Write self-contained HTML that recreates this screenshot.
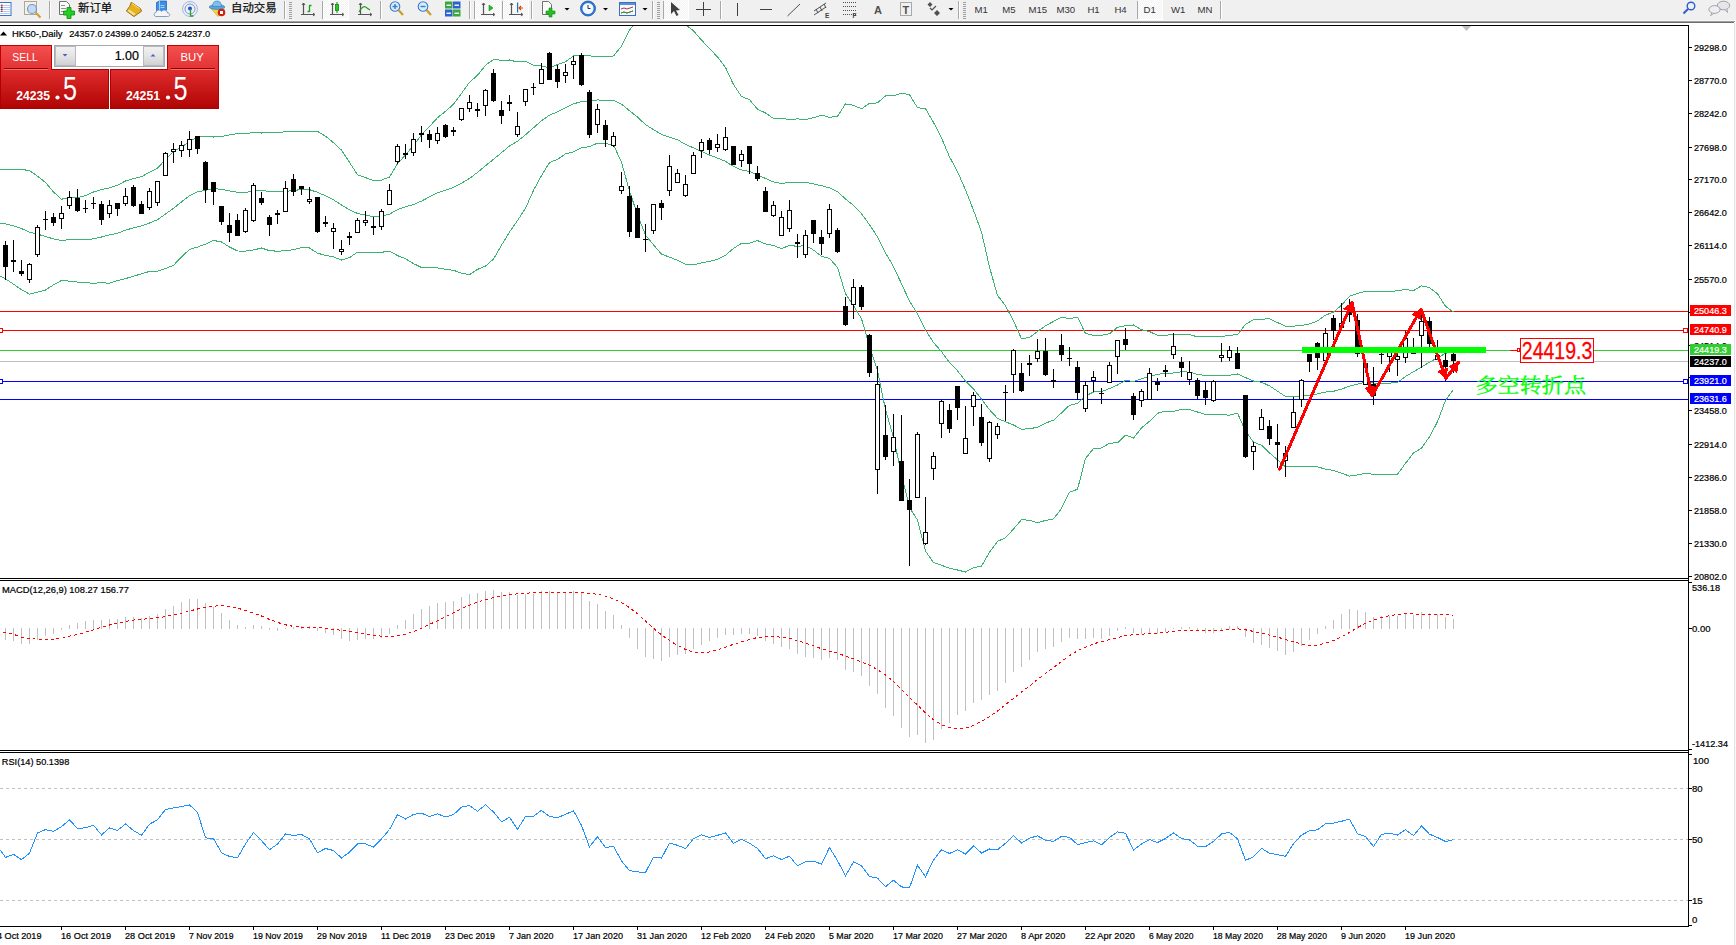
<!DOCTYPE html>
<html><head><meta charset="utf-8"><title>HK50 Daily</title>
<style>
html,body{margin:0;padding:0;background:#fff;overflow:hidden;}
svg{display:block;}
text{font-family:'Liberation Sans', 'Noto Sans CJK SC', sans-serif;}
text[fill="#000"]{stroke:#000;stroke-width:0.22px;}
</style></head><body>
<svg width="1736" height="945" viewBox="0 0 1736 945">
<rect x="0" y="0" width="1736" height="945" fill="#fff"/>

<rect x="0" y="0" width="1736" height="21" fill="#f0f0f0"/>
<rect x="0" y="20" width="1736" height="1" fill="#f7f7f7"/>
<rect x="0" y="21" width="1735" height="1" fill="#a0a0a0"/>
<rect x="0" y="22" width="1734" height="1" fill="#6e6e6e"/>
<rect x="1734" y="23" width="1" height="922" fill="#e2e2e2"/><rect x="1735" y="21" width="1" height="924" fill="#f8f8f8"/>
<defs><pattern id="chk" x="0" y="0" width="2" height="2" patternUnits="userSpaceOnUse"><rect width="2" height="2" fill="#f2f2f2"/><rect width="1" height="1" fill="#ffffff"/><rect x="1" y="1" width="1" height="1" fill="#ffffff"/></pattern></defs>
<rect x="-4" y="2.5" width="15" height="13" fill="#fff" stroke="#3b73c8" stroke-width="1"/>
<rect x="0" y="5" width="10" height="1" fill="#b8c8ee"/>
<rect x="0" y="7" width="10" height="1" fill="#b8c8ee"/>
<rect x="0" y="9" width="10" height="1" fill="#b8c8ee"/>
<rect x="0" y="11" width="10" height="1" fill="#b8c8ee"/>
<rect x="0" y="13" width="10" height="1" fill="#b8c8ee"/>
<rect x="1" y="4.5" width="1.5" height="1.5" fill="#e03030"/>
<rect x="1" y="6.5" width="1.5" height="1.5" fill="#404040"/>
<rect x="1" y="8.5" width="1.5" height="1.5" fill="#404040"/>
<rect x="1" y="10.5" width="1.5" height="1.5" fill="#e03030"/>
<rect x="24.5" y="1.5" width="12" height="13" fill="#f4f0e8" stroke="#b0a890"/>
<circle cx="32" cy="9" r="4.5" fill="#c8d8ee" stroke="#6a9ad8" stroke-width="1.2"/>
<line x1="35.5" y1="12.5" x2="40.5" y2="17.5" stroke="#d0a030" stroke-width="2.2"/>
<rect x="49" y="1" width="1" height="18" fill="#a8a8a8"/><rect x="50" y="1" width="1" height="18" fill="#ffffff"/>
<path d="M59.5 1.5 h7 l3 3 v10 h-10 z" fill="#fafafa" stroke="#707070"/>
<rect x="61" y="5" width="4" height="1" fill="#909090"/><rect x="61" y="8" width="5" height="1" fill="#909090"/><rect x="61" y="11" width="5" height="1" fill="#909090"/>
<path d="M67 7.5 h4 v3.5 h3.5 v4 h-3.5 v3.5 h-4 v-3.5 h-3.5 v-4 h3.5 z" fill="#22d022" stroke="#0c8a0c" stroke-width="0.8"/>
<text x="78" y="12.2" font-size="11.4" fill="#101010" stroke="#101010" stroke-width="0.25" style="font-family:'Noto Sans CJK SC', sans-serif">新订单</text>
<path d="M131.3 2.3 L140.4 8.5 L141.6 11.2 L134 16.6 L126.3 11 L129.6 6.5 Z" fill="#e6b21c" stroke="#9a6410" stroke-width="0.9"/>
<path d="M127.6 11 L134 15.4 L135.6 13.9 L129.2 9.6 Z" fill="#f6e0a0"/>
<path d="M132 3.5 L139.5 8.6" stroke="#fff2b0" stroke-width="0.8"/>
<path d="M156.5 2.5 l3 -1.5 h7 v9 l-3 1.5 h-7 z" fill="#3a90e6" stroke="#1a5cb0" stroke-width="0.7"/>
<path d="M159.5 1 v9.5 M160.5 5.5 h4 M160.5 7.5 h4" stroke="#bfe0ff" stroke-width="0.8" fill="none"/>
<path d="M156 16.5 c-2.5 0 -2.5 -4 0 -4 c0.5 -3 4.5 -3 5.5 -1 c1.5 -2.5 6 -1.5 6 1.5 c3 0 3 3.5 0 3.5 z" fill="#f2f4f8" stroke="#6a86b0" stroke-width="0.8"/>
<circle cx="190" cy="9" r="7.5" fill="none" stroke="#a0b8e8" stroke-width="1"/>
<circle cx="190" cy="9" r="5" fill="none" stroke="#7898e0" stroke-width="1"/>
<circle cx="190" cy="8.5" r="2" fill="#2050d0"/>
<path d="M190.5 9 v7 h3" fill="none" stroke="#30a030" stroke-width="1.3"/>
<path d="M210.5 8 L218 16.5 L224.5 9 Z" fill="#f2d448" stroke="#c8a428" stroke-width="0.6"/>
<ellipse cx="217" cy="7" rx="7.8" ry="2.4" fill="#5aa6de" stroke="#2f78bc" stroke-width="0.6"/>
<path d="M212.5 6.5 q0 -5.5 4.5 -5.5 q4.5 0 4.5 5.5 z" fill="#7cc0ec" stroke="#2f78bc" stroke-width="0.6"/>
<circle cx="221.5" cy="12.5" r="3.8" fill="#d02010"/><rect x="220" y="11" width="3" height="3" fill="#fff"/>
<text x="231" y="12.2" font-size="11.4" fill="#101010" stroke="#101010" stroke-width="0.25" style="font-family:'Noto Sans CJK SC', sans-serif">自动交易</text>
<rect x="284" y="1" width="1" height="18" fill="#a8a8a8"/><rect x="285" y="1" width="1" height="18" fill="#ffffff"/>
<rect x="289" y="2" width="3" height="1" fill="#a0a0a0"/>
<rect x="289" y="4" width="3" height="1" fill="#a0a0a0"/>
<rect x="289" y="6" width="3" height="1" fill="#a0a0a0"/>
<rect x="289" y="8" width="3" height="1" fill="#a0a0a0"/>
<rect x="289" y="10" width="3" height="1" fill="#a0a0a0"/>
<rect x="289" y="12" width="3" height="1" fill="#a0a0a0"/>
<rect x="289" y="14" width="3" height="1" fill="#a0a0a0"/>
<rect x="289" y="16" width="3" height="1" fill="#a0a0a0"/>
<rect x="289" y="18" width="3" height="1" fill="#a0a0a0"/>
<path d="M303.5 3 v12 M301 14.5 h13" stroke="#555" stroke-width="1.2" fill="none"/>
<path d="M302 5 l1.5 -2 l1.5 2 M313 13 l2 1.5 l-2 1.5" stroke="#555" stroke-width="1" fill="none"/>
<path d="M309.5 5 v7 M307.5 11.5 h2 M309.5 5.5 h2" stroke="#18a018" stroke-width="1.3" fill="none"/>
<rect x="322" y="1" width="1" height="18" fill="#a8a8a8"/><rect x="323" y="1" width="1" height="18" fill="#ffffff"/>
<rect x="324" y="0" width="24" height="19" fill="url(#chk)"/>
<rect x="324" y="19" width="25" height="1" fill="#ffffff"/><rect x="348" y="0" width="1" height="20" fill="#ffffff"/>
<path d="M332.5 3 v12 M330 14.5 h13" stroke="#555" stroke-width="1.2" fill="none"/>
<path d="M331 5 l1.5 -2 l1.5 2 M342 13 l2 1.5 l-2 1.5" stroke="#555" stroke-width="1" fill="none"/>
<rect x="335.5" y="4.5" width="3" height="6" fill="#22cc22" stroke="#118811" stroke-width="0.8"/><path d="M337 2 v2.5 M337 10.5 v2.5" stroke="#118811" stroke-width="1"/>
<path d="M360.5 3 v12 M358 14.5 h13" stroke="#555" stroke-width="1.2" fill="none"/>
<path d="M359 5 l1.5 -2 l1.5 2 M370 13 l2 1.5 l-2 1.5" stroke="#555" stroke-width="1" fill="none"/>
<path d="M359 12 q4 -8 8 -4 l3 2" stroke="#18a018" stroke-width="1.1" fill="none"/>
<rect x="380" y="1" width="1" height="18" fill="#a8a8a8"/><rect x="381" y="1" width="1" height="18" fill="#ffffff"/>
<circle cx="395" cy="6.5" r="4.8" fill="#d8ecfa" stroke="#3a7ad0" stroke-width="1.1"/>
<line x1="398.5" y1="10" x2="403" y2="15" stroke="#c8a020" stroke-width="2.2"/>
<rect x="392.5" y="5.8" width="5" height="1.4" fill="#3a7ad0"/>
<rect x="394.3" y="4" width="1.4" height="5" fill="#3a7ad0"/>
<circle cx="423" cy="6.5" r="4.8" fill="#d8ecfa" stroke="#3a7ad0" stroke-width="1.1"/>
<line x1="426.5" y1="10" x2="431" y2="15" stroke="#c8a020" stroke-width="2.2"/>
<rect x="420.5" y="5.8" width="5" height="1.4" fill="#3a7ad0"/>
<rect x="445" y="1.5" width="7.5" height="7" fill="#3aa83a"/><rect x="453" y="1.5" width="7.5" height="7" fill="#2a62d0"/>
<rect x="445" y="9.5" width="7.5" height="7" fill="#2a62d0"/><rect x="453" y="9.5" width="7.5" height="7" fill="#3aa83a"/>
<rect x="446.5" y="4.5" width="4.5" height="1.5" fill="#e8f0f8"/>
<rect x="454.5" y="4.5" width="4.5" height="1.5" fill="#e8f0f8"/>
<rect x="446.5" y="12.5" width="4.5" height="1.5" fill="#e8f0f8"/>
<rect x="454.5" y="12.5" width="4.5" height="1.5" fill="#e8f0f8"/>
<rect x="469" y="1" width="1" height="18" fill="#a8a8a8"/><rect x="470" y="1" width="1" height="18" fill="#ffffff"/>
<rect x="474" y="1" width="1" height="18" fill="#a8a8a8"/><rect x="475" y="1" width="1" height="18" fill="#ffffff"/>
<rect x="476" y="0" width="24" height="19" fill="url(#chk)"/>
<rect x="476" y="19" width="25" height="1" fill="#ffffff"/><rect x="500" y="0" width="1" height="20" fill="#ffffff"/>
<path d="M483.5 3 v12 M481 14.5 h13" stroke="#555" stroke-width="1.2" fill="none"/>
<path d="M482 5 l1.5 -2 l1.5 2 M493 13 l2 1.5 l-2 1.5" stroke="#555" stroke-width="1" fill="none"/>
<path d="M489 5 l4 3 l-4 3 z" fill="#20c020" stroke="#109010" stroke-width="0.6"/>
<rect x="502" y="1" width="1" height="18" fill="#a8a8a8"/><rect x="503" y="1" width="1" height="18" fill="#ffffff"/>
<rect x="504" y="0" width="24" height="19" fill="url(#chk)"/>
<rect x="504" y="19" width="25" height="1" fill="#ffffff"/><rect x="528" y="0" width="1" height="20" fill="#ffffff"/>
<path d="M511.5 3 v12 M509 14.5 h13" stroke="#555" stroke-width="1.2" fill="none"/>
<path d="M510 5 l1.5 -2 l1.5 2 M521 13 l2 1.5 l-2 1.5" stroke="#555" stroke-width="1" fill="none"/>
<rect x="517" y="2.5" width="1.2" height="10" fill="#2070c0"/><path d="M523 8 h-4 M521 6 l-2 2 l2 2" stroke="#d04010" stroke-width="1.1" fill="none"/>
<rect x="531" y="1" width="1" height="18" fill="#a8a8a8"/><rect x="532" y="1" width="1" height="18" fill="#ffffff"/>
<path d="M542.5 1.5 h6 l3 3 v10 h-9 z" fill="#fafafa" stroke="#707070"/>
<path d="M549 8 h3 v3 h3 v3 h-3 v3 h-3 v-3 h-3 v-3 h3 z" fill="#22c022" stroke="#118811" stroke-width="0.6"/>
<path d="M564.5 8 h5 l-2.5 2.5 z" fill="#000"/>
<circle cx="588" cy="8.5" r="7.5" fill="#2a78d8" stroke="#1a58a8" stroke-width="0.8"/><circle cx="588" cy="8.5" r="5.5" fill="#f4f8fc"/>
<path d="M588 5 v3.5 h2.5" stroke="#333" stroke-width="1" fill="none"/>
<path d="M603.0 8 h5 l-2.5 2.5 z" fill="#000"/>
<rect x="619.5" y="2.5" width="16" height="13" fill="#f4f8fc" stroke="#3a70c0"/><rect x="620" y="3" width="15" height="2" fill="#5a90d8"/>
<path d="M621 9 l3 -1 l3 1 l3 -1 l3 -1 M621 13 l3 -1 l3 1 l3 -1 l3 -1" stroke="#b02020" stroke-width="0.9" fill="none"/>
<path d="M621 13 l3 -1 l3 1 l3 -1 l3 -1" stroke="#20a020" stroke-width="0.9" fill="none"/>
<path d="M642.5 8 h5 l-2.5 2.5 z" fill="#000"/>
<rect x="652" y="1" width="1" height="18" fill="#a8a8a8"/><rect x="653" y="1" width="1" height="18" fill="#ffffff"/>
<rect x="657" y="2" width="3" height="1" fill="#a0a0a0"/>
<rect x="657" y="4" width="3" height="1" fill="#a0a0a0"/>
<rect x="657" y="6" width="3" height="1" fill="#a0a0a0"/>
<rect x="657" y="8" width="3" height="1" fill="#a0a0a0"/>
<rect x="657" y="10" width="3" height="1" fill="#a0a0a0"/>
<rect x="657" y="12" width="3" height="1" fill="#a0a0a0"/>
<rect x="657" y="14" width="3" height="1" fill="#a0a0a0"/>
<rect x="657" y="16" width="3" height="1" fill="#a0a0a0"/>
<rect x="657" y="18" width="3" height="1" fill="#a0a0a0"/>
<rect x="663" y="1" width="1" height="18" fill="#a8a8a8"/><rect x="664" y="1" width="1" height="18" fill="#ffffff"/>
<rect x="664" y="0" width="24" height="19" fill="url(#chk)"/>
<rect x="664" y="19" width="25" height="1" fill="#ffffff"/><rect x="688" y="0" width="1" height="20" fill="#ffffff"/>
<path d="M671 2 l0 12 l3 -3 l2.5 5 l2 -1 l-2.5 -4.5 l4 -0.5 z" fill="#404040"/>
<path d="M703.5 2 v14 M696 9.5 h15" stroke="#404040" stroke-width="1"/>
<rect x="720" y="1" width="1" height="18" fill="#a8a8a8"/><rect x="721" y="1" width="1" height="18" fill="#ffffff"/>
<rect x="737" y="3" width="1" height="13" fill="#404040"/>
<rect x="760" y="9" width="12" height="1" fill="#404040"/>
<line x1="787.5" y1="16" x2="800" y2="4" stroke="#505050" stroke-width="1"/>
<path d="M814 11 l12 -8 M814 15 l12 -8 M816 9 l2 4 M820 7 l2 4 M824 4 l2 4" stroke="#404040" stroke-width="0.9" fill="none"/>
<text x="825" y="18" font-size="6.5" font-weight="bold" fill="#404040">E</text>
<path d="M843 2.5 h13" stroke="#505050" stroke-width="1" stroke-dasharray="1 1"/>
<path d="M843 6.5 h13" stroke="#505050" stroke-width="1" stroke-dasharray="1 1"/>
<path d="M843 10.5 h13" stroke="#505050" stroke-width="1" stroke-dasharray="1 1"/>
<path d="M843 14.5 h13" stroke="#505050" stroke-width="1" stroke-dasharray="1 1"/>
<text x="852.5" y="18" font-size="6.5" font-weight="bold" fill="#404040">F</text>
<text x="874" y="13.5" font-size="11" font-weight="bold" fill="#505050">A</text>
<rect x="900.5" y="2.5" width="11" height="13" fill="none" stroke="#606060" stroke-dasharray="1 1"/>
<text x="902.5" y="13.5" font-size="11" font-weight="bold" fill="#505050">T</text>
<path d="M930 2 l2.5 2.5 l-2.5 2.5 l-2.5 -2.5 z M937 10 l3 3 l-3 3 l-3 -3 z" fill="#505050"/><path d="M930 8 l2 2 l4 -4" stroke="#505050" stroke-width="1.2" fill="none"/>
<path d="M948.5 8 h5 l-2.5 2.5 z" fill="#000"/>
<rect x="958" y="1" width="1" height="18" fill="#a8a8a8"/><rect x="959" y="1" width="1" height="18" fill="#ffffff"/>
<rect x="963" y="2" width="3" height="1" fill="#a0a0a0"/>
<rect x="963" y="4" width="3" height="1" fill="#a0a0a0"/>
<rect x="963" y="6" width="3" height="1" fill="#a0a0a0"/>
<rect x="963" y="8" width="3" height="1" fill="#a0a0a0"/>
<rect x="963" y="10" width="3" height="1" fill="#a0a0a0"/>
<rect x="963" y="12" width="3" height="1" fill="#a0a0a0"/>
<rect x="963" y="14" width="3" height="1" fill="#a0a0a0"/>
<rect x="963" y="16" width="3" height="1" fill="#a0a0a0"/>
<rect x="963" y="18" width="3" height="1" fill="#a0a0a0"/>
<text x="974.5" y="13" font-size="9.6" fill="#333">M1</text>
<text x="1002.3" y="13" font-size="9.6" fill="#333">M5</text>
<text x="1028.5" y="13" font-size="9.6" fill="#333">M15</text>
<text x="1056.5" y="13" font-size="9.6" fill="#333">M30</text>
<text x="1087.4" y="13" font-size="9.6" fill="#333">H1</text>
<text x="1114.4" y="13" font-size="9.6" fill="#333">H4</text>
<text x="1171" y="13" font-size="9.6" fill="#333">W1</text>
<text x="1197.4" y="13" font-size="9.6" fill="#333">MN</text>
<rect x="1137" y="1" width="1" height="18" fill="#a8a8a8"/><rect x="1138" y="1" width="1" height="18" fill="#ffffff"/>
<rect x="1138" y="0" width="24" height="19" fill="url(#chk)"/>
<rect x="1138" y="19" width="25" height="1" fill="#ffffff"/><rect x="1162" y="0" width="1" height="20" fill="#ffffff"/>
<text x="1143.5" y="13" font-size="9.6" fill="#333">D1</text>
<rect x="1220" y="1" width="1" height="18" fill="#a8a8a8"/><rect x="1221" y="1" width="1" height="18" fill="#ffffff"/>
<circle cx="1691" cy="6" r="3.8" fill="none" stroke="#2a5fd0" stroke-width="1.4"/><line x1="1688" y1="9" x2="1683.5" y2="13.5" stroke="#2a5fd0" stroke-width="2"/>
<ellipse cx="1723.5" cy="5.5" rx="6.2" ry="4.3" fill="#e6e6ea" stroke="#8c8c94" stroke-width="0.8"/><path d="M1725 9.5 l2.5 3 l-0.5 -3.2" fill="#e6e6ea" stroke="#8c8c94" stroke-width="0.7"/>
<ellipse cx="1714.5" cy="9.5" rx="5.6" ry="3.9" fill="#eeeef2" stroke="#8c8c94" stroke-width="0.8"/><path d="M1712 13 l-1.5 2.6 l3.5 -2.4" fill="#eeeef2" stroke="#8c8c94" stroke-width="0.7"/>
<rect x="0" y="25" width="1689" height="1" fill="#000"/>
<rect x="1688" y="25" width="1" height="902" fill="#000"/>
<rect x="0" y="578" width="1689" height="1" fill="#000"/>
<rect x="0" y="580" width="1689" height="1" fill="#000"/>
<rect x="0" y="750" width="1689" height="1" fill="#000"/>
<rect x="0" y="752" width="1689" height="1" fill="#000"/>
<rect x="0" y="926" width="1689" height="1" fill="#000"/>
<path d="M1462 26 L1471 26 L1466.5 31 Z" fill="#c0c0c0"/>
<defs><clipPath id="main"><rect x="0" y="26" width="1688" height="552"/></clipPath><clipPath id="macdc"><rect x="0" y="581" width="1688" height="169"/></clipPath><clipPath id="rsic"><rect x="0" y="753" width="1688" height="173"/></clipPath></defs>
<g shape-rendering="crispEdges">
<rect x="0" y="311" width="1688" height="1" fill="#ff0000"/>
<rect x="0" y="330" width="1688" height="1" fill="#ff0000"/>
<rect x="0" y="350" width="1688" height="1" fill="#32cd32"/>
<rect x="0" y="361" width="1688" height="1" fill="#c0c0c0"/>
<rect x="0" y="381" width="1688" height="1" fill="#0000ff"/>
<rect x="0" y="399" width="1688" height="1" fill="#0000ff"/>
</g>
<g clip-path="url(#main)" fill="none" stroke="#3cb371" stroke-width="1" shape-rendering="crispEdges">
<polyline points="0,169.8 5.5,169.4 13.5,169.4 21.5,169.4 29.5,170.6 37.5,176.2 45.5,182.5 53.5,192.0 61.5,199.2 69.5,197.6 77.5,197.6 85.5,195.7 93.5,192.0 101.5,189.7 109.5,187.8 117.5,185.2 125.5,181.0 133.5,178.6 141.5,176.7 149.5,172.2 157.5,168.1 165.5,159.5 173.5,151.4 181.5,146.8 189.5,142.0 197.5,136.4 205.5,136.5 213.5,137.0 221.5,136.4 229.5,135.0 237.5,133.5 245.5,133.4 253.5,132.7 261.5,133.0 269.5,132.3 277.5,132.2 285.5,131.9 293.5,131.5 301.5,131.3 309.5,131.5 317.5,131.4 325.5,136.2 333.5,142.7 341.5,150.1 349.5,162.3 357.5,174.8 365.5,177.6 373.5,180.7 381.5,180.1 389.5,177.1 397.5,163.6 405.5,155.0 413.5,145.5 421.5,134.7 429.5,126.5 437.5,117.7 445.5,111.3 453.5,104.3 461.5,93.4 469.5,82.3 477.5,75.3 485.5,65.3 493.5,59.5 501.5,60.2 509.5,60.0 517.5,62.0 525.5,61.2 533.5,65.2 541.5,65.9 549.5,67.7 557.5,64.6 565.5,61.8 573.5,56.0 581.5,55.1 589.5,55.8 597.5,56.7 605.5,56.4 613.5,56.0 621.5,46.1 629.5,30.3 637.5,19.4 645.5,14.1 653.5,14.6 661.5,14.5 669.5,17.6 677.5,19.1 685.5,24.7 693.5,30.8 701.5,40.1 709.5,48.6 717.5,56.9 725.5,67.4 733.5,84.6 741.5,96.5 749.5,99.7 757.5,109.2 765.5,113.0 773.5,118.5 781.5,118.2 789.5,119.6 797.5,118.9 805.5,119.5 813.5,117.7 821.5,115.2 829.5,117.3 837.5,116.3 845.5,103.9 853.5,105.3 861.5,108.8 869.5,103.4 877.5,102.9 885.5,96.0 893.5,95.8 901.5,93.1 909.5,94.7 917.5,107.7 925.5,108.7 933.5,122.4 941.5,138.1 949.5,156.8 957.5,171.6 965.5,189.9 973.5,210.3 981.5,232.0 989.5,267.1 997.5,295.4 1005.5,305.8 1013.5,320.9 1021.5,338.8 1029.5,337.4 1037.5,331.5 1045.5,325.8 1053.5,321.4 1061.5,317.4 1069.5,318.5 1077.5,317.3 1085.5,333.4 1093.5,335.5 1101.5,335.3 1109.5,333.7 1117.5,327.3 1125.5,325.8 1133.5,325.0 1141.5,329.8 1149.5,331.5 1157.5,335.4 1165.5,335.2 1173.5,334.5 1181.5,334.2 1189.5,334.7 1197.5,336.8 1205.5,336.6 1213.5,336.7 1221.5,336.7 1229.5,335.2 1237.5,334.8 1245.5,324.2 1253.5,319.8 1261.5,319.2 1269.5,318.7 1277.5,322.6 1285.5,326.2 1293.5,326.2 1301.5,325.4 1309.5,324.0 1317.5,320.9 1325.5,315.1 1333.5,312.2 1341.5,305.1 1349.5,296.3 1357.5,293.3 1365.5,291.3 1373.5,291.8 1381.5,291.7 1389.5,291.9 1397.5,290.6 1405.5,289.5 1413.5,290.7 1421.5,285.8 1429.5,287.7 1437.5,293.7 1445.5,306.4 1453.5,312.1"/>
<polyline points="0,223.3 5.5,223.8 13.5,225.9 21.5,228.6 29.5,232.2 37.5,234.1 45.5,236.5 53.5,238.9 61.5,240.5 69.5,239.7 77.5,239.7 85.5,239.7 93.5,238.9 101.5,237.0 109.5,234.9 117.5,233.3 125.5,230.2 133.5,227.8 141.5,225.9 149.5,223.0 157.5,219.7 165.5,214.0 173.5,208.4 181.5,201.9 189.5,195.7 197.5,191.8 205.5,190.3 213.5,188.7 221.5,189.2 229.5,191.0 237.5,192.2 245.5,192.3 253.5,191.3 261.5,190.5 269.5,191.5 277.5,191.7 285.5,191.3 293.5,190.6 301.5,189.4 309.5,189.7 317.5,192.3 325.5,195.8 333.5,199.8 341.5,205.0 349.5,209.9 357.5,213.5 365.5,215.0 373.5,216.8 381.5,216.2 389.5,214.1 397.5,209.6 405.5,206.8 413.5,204.5 421.5,201.1 429.5,196.9 437.5,192.8 445.5,190.3 453.5,187.3 461.5,183.2 469.5,178.4 477.5,172.4 485.5,165.7 493.5,159.3 501.5,152.7 509.5,146.0 517.5,141.3 525.5,134.8 533.5,127.8 541.5,120.7 549.5,115.2 557.5,111.9 565.5,107.8 573.5,103.9 581.5,101.5 589.5,101.2 597.5,100.0 605.5,100.1 613.5,100.3 621.5,104.2 629.5,110.7 637.5,117.1 645.5,124.6 653.5,129.7 661.5,134.3 669.5,137.3 677.5,139.7 685.5,144.5 693.5,147.8 701.5,151.5 709.5,155.0 717.5,158.1 725.5,161.3 733.5,166.5 741.5,169.9 749.5,171.4 757.5,174.9 765.5,178.5 773.5,181.9 781.5,183.5 789.5,182.4 797.5,182.7 805.5,182.4 813.5,183.9 821.5,185.7 829.5,187.9 837.5,191.8 845.5,198.9 853.5,205.5 861.5,213.7 869.5,224.8 877.5,236.9 885.5,252.8 893.5,266.5 901.5,283.8 909.5,301.1 917.5,313.9 925.5,329.9 933.5,342.5 941.5,351.6 949.5,362.6 957.5,370.8 965.5,381.0 973.5,389.0 981.5,399.0 989.5,409.7 997.5,418.4 1005.5,421.8 1013.5,425.0 1021.5,429.2 1029.5,428.8 1037.5,427.2 1045.5,423.1 1053.5,420.2 1061.5,412.9 1069.5,405.3 1077.5,403.3 1085.5,396.0 1093.5,392.0 1101.5,391.7 1109.5,388.5 1117.5,385.1 1125.5,380.4 1133.5,381.5 1141.5,378.9 1149.5,376.4 1157.5,374.4 1165.5,373.2 1173.5,373.0 1181.5,371.8 1189.5,372.1 1197.5,374.4 1205.5,375.6 1213.5,375.7 1221.5,375.7 1229.5,375.2 1237.5,374.0 1245.5,377.6 1253.5,381.0 1261.5,382.2 1269.5,385.9 1277.5,391.1 1285.5,396.5 1293.5,396.4 1301.5,395.8 1309.5,395.3 1317.5,393.9 1325.5,392.1 1333.5,391.3 1341.5,389.1 1349.5,386.2 1357.5,384.1 1365.5,382.3 1373.5,383.0 1381.5,383.0 1389.5,383.1 1397.5,382.4 1405.5,376.4 1413.5,371.8 1421.5,367.0 1429.5,362.3 1437.5,357.7 1445.5,353.4 1453.5,350.9"/>
<polyline points="0,276.2 5.5,278.9 13.5,284.1 21.5,289.7 29.5,294.1 37.5,292.1 45.5,290.0 53.5,284.9 61.5,280.5 69.5,281.1 77.5,282.1 85.5,282.7 93.5,283.3 101.5,282.7 109.5,283.3 117.5,280.5 125.5,278.6 133.5,276.2 141.5,273.8 149.5,271.4 157.5,271.3 165.5,268.6 173.5,265.3 181.5,257.0 189.5,249.4 197.5,247.1 205.5,244.1 213.5,240.4 221.5,242.0 229.5,247.0 237.5,251.0 245.5,251.1 253.5,250.0 261.5,248.0 269.5,250.7 277.5,251.2 285.5,250.8 293.5,249.7 301.5,247.5 309.5,248.0 317.5,253.2 325.5,255.4 333.5,256.9 341.5,260.0 349.5,257.6 357.5,252.2 365.5,252.3 373.5,252.9 381.5,252.3 389.5,251.1 397.5,255.6 405.5,258.7 413.5,263.6 421.5,267.5 429.5,267.2 437.5,268.0 445.5,269.3 453.5,270.3 461.5,273.1 469.5,274.6 477.5,269.4 485.5,266.1 493.5,259.1 501.5,245.2 509.5,232.0 517.5,220.6 525.5,208.3 533.5,190.3 541.5,175.5 549.5,162.6 557.5,159.3 565.5,153.9 573.5,151.9 581.5,147.8 589.5,146.6 597.5,143.2 605.5,143.7 613.5,144.7 621.5,162.4 629.5,191.1 637.5,214.7 645.5,235.1 653.5,244.9 661.5,254.1 669.5,257.1 677.5,260.3 685.5,264.2 693.5,264.8 701.5,262.8 709.5,261.4 717.5,259.3 725.5,255.2 733.5,248.4 741.5,243.3 749.5,243.1 757.5,240.6 765.5,244.0 773.5,245.4 781.5,248.8 789.5,245.2 797.5,246.5 805.5,245.3 813.5,250.1 821.5,256.2 829.5,258.5 837.5,267.4 845.5,293.9 853.5,305.7 861.5,318.7 869.5,346.3 877.5,370.8 885.5,409.7 893.5,437.1 901.5,474.5 909.5,507.5 917.5,520.0 925.5,551.1 933.5,562.5 941.5,565.2 949.5,568.3 957.5,570.0 965.5,572.0 973.5,567.7 981.5,566.1 989.5,552.3 997.5,541.4 1005.5,537.8 1013.5,529.0 1021.5,519.6 1029.5,520.3 1037.5,522.9 1045.5,520.4 1053.5,519.0 1061.5,508.4 1069.5,492.2 1077.5,489.3 1085.5,458.5 1093.5,448.5 1101.5,448.0 1109.5,443.2 1117.5,442.8 1125.5,435.1 1133.5,438.0 1141.5,428.0 1149.5,421.3 1157.5,413.3 1165.5,411.1 1173.5,411.5 1181.5,409.4 1189.5,409.6 1197.5,412.0 1205.5,414.5 1213.5,414.7 1221.5,414.6 1229.5,415.2 1237.5,413.1 1245.5,431.0 1253.5,442.2 1261.5,445.2 1269.5,453.0 1277.5,459.7 1285.5,466.8 1293.5,466.5 1301.5,466.3 1309.5,466.6 1317.5,466.9 1325.5,469.1 1333.5,470.5 1341.5,473.1 1349.5,476.1 1357.5,474.9 1365.5,473.4 1373.5,474.3 1381.5,474.3 1389.5,474.2 1397.5,474.2 1405.5,463.3 1413.5,453.0 1421.5,448.2 1429.5,436.8 1437.5,421.7 1445.5,400.4 1453.5,389.6"/>
</g>
<g shape-rendering="crispEdges">
<rect x="5" y="241" width="1" height="39" fill="#000"/>
<rect x="3" y="245" width="5" height="22" fill="#000"/>
<rect x="13" y="240" width="1" height="32" fill="#000"/>
<rect x="11" y="260" width="5" height="2" fill="#000"/>
<rect x="21" y="260" width="1" height="16" fill="#000"/>
<rect x="19" y="271" width="5" height="3" fill="#000"/>
<rect x="29" y="263" width="1" height="20" fill="#000"/>
<rect x="27" y="264" width="5" height="16" fill="#000"/>
<rect x="28" y="265" width="3" height="14" fill="#fff"/>
<rect x="37" y="225" width="1" height="32" fill="#000"/>
<rect x="35" y="227" width="5" height="28" fill="#000"/>
<rect x="36" y="228" width="3" height="26" fill="#fff"/>
<rect x="45" y="211" width="1" height="19" fill="#000"/>
<rect x="43" y="219" width="5" height="1" fill="#000"/>
<rect x="53" y="213" width="1" height="13" fill="#000"/>
<rect x="51" y="217" width="5" height="6" fill="#000"/>
<rect x="61" y="206" width="1" height="23" fill="#000"/>
<rect x="59" y="213" width="5" height="6" fill="#000"/>
<rect x="60" y="214" width="3" height="4" fill="#fff"/>
<rect x="69" y="191" width="1" height="18" fill="#000"/>
<rect x="67" y="197" width="5" height="9" fill="#000"/>
<rect x="68" y="198" width="3" height="7" fill="#fff"/>
<rect x="77" y="189" width="1" height="23" fill="#000"/>
<rect x="75" y="198" width="5" height="13" fill="#000"/>
<rect x="85" y="200" width="1" height="13" fill="#000"/>
<rect x="83" y="208" width="5" height="1" fill="#000"/>
<rect x="93" y="197" width="1" height="12" fill="#000"/>
<rect x="91" y="203" width="5" height="1" fill="#000"/>
<rect x="101" y="201" width="1" height="24" fill="#000"/>
<rect x="99" y="204" width="5" height="16" fill="#000"/>
<rect x="109" y="200" width="1" height="18" fill="#000"/>
<rect x="107" y="205" width="5" height="9" fill="#000"/>
<rect x="108" y="206" width="3" height="7" fill="#fff"/>
<rect x="117" y="203" width="1" height="13" fill="#000"/>
<rect x="115" y="203" width="5" height="6" fill="#000"/>
<rect x="125" y="188" width="1" height="18" fill="#000"/>
<rect x="123" y="196" width="5" height="8" fill="#000"/>
<rect x="124" y="197" width="3" height="6" fill="#fff"/>
<rect x="133" y="185" width="1" height="22" fill="#000"/>
<rect x="131" y="187" width="5" height="19" fill="#000"/>
<rect x="141" y="201" width="1" height="13" fill="#000"/>
<rect x="139" y="204" width="5" height="10" fill="#000"/>
<rect x="149" y="188" width="1" height="22" fill="#000"/>
<rect x="147" y="191" width="5" height="17" fill="#000"/>
<rect x="148" y="192" width="3" height="15" fill="#fff"/>
<rect x="157" y="181" width="1" height="25" fill="#000"/>
<rect x="155" y="181" width="5" height="22" fill="#000"/>
<rect x="156" y="182" width="3" height="20" fill="#fff"/>
<rect x="165" y="152" width="1" height="24" fill="#000"/>
<rect x="163" y="153" width="5" height="23" fill="#000"/>
<rect x="164" y="154" width="3" height="21" fill="#fff"/>
<rect x="173" y="143" width="1" height="20" fill="#000"/>
<rect x="171" y="149" width="5" height="3" fill="#000"/>
<rect x="172" y="150" width="3" height="1" fill="#fff"/>
<rect x="181" y="141" width="1" height="16" fill="#000"/>
<rect x="179" y="145" width="5" height="6" fill="#000"/>
<rect x="180" y="146" width="3" height="4" fill="#fff"/>
<rect x="189" y="131" width="1" height="26" fill="#000"/>
<rect x="187" y="139" width="5" height="11" fill="#000"/>
<rect x="188" y="140" width="3" height="9" fill="#fff"/>
<rect x="197" y="136" width="1" height="18" fill="#000"/>
<rect x="195" y="136" width="5" height="13" fill="#000"/>
<rect x="205" y="161" width="1" height="42" fill="#000"/>
<rect x="203" y="162" width="5" height="28" fill="#000"/>
<rect x="213" y="182" width="1" height="23" fill="#000"/>
<rect x="211" y="182" width="5" height="10" fill="#000"/>
<rect x="221" y="206" width="1" height="19" fill="#000"/>
<rect x="219" y="206" width="5" height="16" fill="#000"/>
<rect x="229" y="213" width="1" height="29" fill="#000"/>
<rect x="227" y="225" width="5" height="8" fill="#000"/>
<rect x="237" y="214" width="1" height="22" fill="#000"/>
<rect x="235" y="220" width="5" height="16" fill="#000"/>
<rect x="245" y="208" width="1" height="25" fill="#000"/>
<rect x="243" y="210" width="5" height="22" fill="#000"/>
<rect x="244" y="211" width="3" height="20" fill="#fff"/>
<rect x="253" y="183" width="1" height="39" fill="#000"/>
<rect x="251" y="185" width="5" height="36" fill="#000"/>
<rect x="252" y="186" width="3" height="34" fill="#fff"/>
<rect x="261" y="192" width="1" height="13" fill="#000"/>
<rect x="259" y="198" width="5" height="5" fill="#000"/>
<rect x="269" y="215" width="1" height="21" fill="#000"/>
<rect x="267" y="217" width="5" height="8" fill="#000"/>
<rect x="277" y="210" width="1" height="14" fill="#000"/>
<rect x="275" y="213" width="5" height="2" fill="#000"/>
<rect x="285" y="181" width="1" height="31" fill="#000"/>
<rect x="283" y="188" width="5" height="24" fill="#000"/>
<rect x="284" y="189" width="3" height="22" fill="#fff"/>
<rect x="293" y="174" width="1" height="22" fill="#000"/>
<rect x="291" y="179" width="5" height="13" fill="#000"/>
<rect x="301" y="186" width="1" height="9" fill="#000"/>
<rect x="299" y="186" width="5" height="3" fill="#000"/>
<rect x="309" y="187" width="1" height="17" fill="#000"/>
<rect x="307" y="199" width="5" height="3" fill="#000"/>
<rect x="308" y="200" width="3" height="1" fill="#fff"/>
<rect x="317" y="197" width="1" height="36" fill="#000"/>
<rect x="315" y="197" width="5" height="35" fill="#000"/>
<rect x="325" y="216" width="1" height="11" fill="#000"/>
<rect x="323" y="222" width="5" height="2" fill="#000"/>
<rect x="333" y="223" width="1" height="26" fill="#000"/>
<rect x="331" y="228" width="5" height="4" fill="#000"/>
<rect x="332" y="229" width="3" height="2" fill="#fff"/>
<rect x="341" y="240" width="1" height="15" fill="#000"/>
<rect x="339" y="249" width="5" height="3" fill="#000"/>
<rect x="340" y="250" width="3" height="1" fill="#fff"/>
<rect x="349" y="232" width="1" height="13" fill="#000"/>
<rect x="347" y="236" width="5" height="2" fill="#000"/>
<rect x="357" y="218" width="1" height="15" fill="#000"/>
<rect x="355" y="220" width="5" height="13" fill="#000"/>
<rect x="356" y="221" width="3" height="11" fill="#fff"/>
<rect x="365" y="211" width="1" height="15" fill="#000"/>
<rect x="363" y="220" width="5" height="3" fill="#000"/>
<rect x="364" y="221" width="3" height="1" fill="#fff"/>
<rect x="373" y="217" width="1" height="18" fill="#000"/>
<rect x="371" y="226" width="5" height="2" fill="#000"/>
<rect x="381" y="209" width="1" height="21" fill="#000"/>
<rect x="379" y="211" width="5" height="16" fill="#000"/>
<rect x="380" y="212" width="3" height="14" fill="#fff"/>
<rect x="389" y="184" width="1" height="21" fill="#000"/>
<rect x="387" y="190" width="5" height="15" fill="#000"/>
<rect x="388" y="191" width="3" height="13" fill="#fff"/>
<rect x="397" y="144" width="1" height="20" fill="#000"/>
<rect x="395" y="146" width="5" height="16" fill="#000"/>
<rect x="396" y="147" width="3" height="14" fill="#fff"/>
<rect x="405" y="144" width="1" height="15" fill="#000"/>
<rect x="403" y="153" width="5" height="2" fill="#000"/>
<rect x="413" y="133" width="1" height="23" fill="#000"/>
<rect x="411" y="139" width="5" height="14" fill="#000"/>
<rect x="412" y="140" width="3" height="12" fill="#fff"/>
<rect x="421" y="126" width="1" height="16" fill="#000"/>
<rect x="419" y="133" width="5" height="2" fill="#000"/>
<rect x="429" y="130" width="1" height="18" fill="#000"/>
<rect x="427" y="134" width="5" height="6" fill="#000"/>
<rect x="437" y="127" width="1" height="17" fill="#000"/>
<rect x="435" y="133" width="5" height="8" fill="#000"/>
<rect x="436" y="134" width="3" height="6" fill="#fff"/>
<rect x="445" y="124" width="1" height="14" fill="#000"/>
<rect x="443" y="125" width="5" height="12" fill="#000"/>
<rect x="453" y="127" width="1" height="9" fill="#000"/>
<rect x="451" y="130" width="5" height="2" fill="#000"/>
<rect x="461" y="108" width="1" height="13" fill="#000"/>
<rect x="459" y="108" width="5" height="12" fill="#000"/>
<rect x="460" y="109" width="3" height="10" fill="#fff"/>
<rect x="469" y="95" width="1" height="17" fill="#000"/>
<rect x="467" y="102" width="5" height="7" fill="#000"/>
<rect x="468" y="103" width="3" height="5" fill="#fff"/>
<rect x="477" y="103" width="1" height="14" fill="#000"/>
<rect x="475" y="109" width="5" height="2" fill="#000"/>
<rect x="485" y="89" width="1" height="27" fill="#000"/>
<rect x="483" y="90" width="5" height="16" fill="#000"/>
<rect x="484" y="91" width="3" height="14" fill="#fff"/>
<rect x="493" y="69" width="1" height="33" fill="#000"/>
<rect x="491" y="73" width="5" height="28" fill="#000"/>
<rect x="501" y="101" width="1" height="23" fill="#000"/>
<rect x="499" y="110" width="5" height="6" fill="#000"/>
<rect x="509" y="95" width="1" height="16" fill="#000"/>
<rect x="507" y="102" width="5" height="2" fill="#000"/>
<rect x="517" y="112" width="1" height="25" fill="#000"/>
<rect x="515" y="126" width="5" height="9" fill="#000"/>
<rect x="516" y="127" width="3" height="7" fill="#fff"/>
<rect x="525" y="89" width="1" height="17" fill="#000"/>
<rect x="523" y="89" width="5" height="13" fill="#000"/>
<rect x="524" y="90" width="3" height="11" fill="#fff"/>
<rect x="533" y="83" width="1" height="12" fill="#000"/>
<rect x="531" y="87" width="5" height="1" fill="#000"/>
<rect x="541" y="63" width="1" height="21" fill="#000"/>
<rect x="539" y="69" width="5" height="15" fill="#000"/>
<rect x="540" y="70" width="3" height="13" fill="#fff"/>
<rect x="549" y="52" width="1" height="28" fill="#000"/>
<rect x="547" y="53" width="5" height="27" fill="#000"/>
<rect x="557" y="65" width="1" height="23" fill="#000"/>
<rect x="555" y="69" width="5" height="13" fill="#000"/>
<rect x="565" y="64" width="1" height="19" fill="#000"/>
<rect x="563" y="72" width="5" height="4" fill="#000"/>
<rect x="564" y="73" width="3" height="2" fill="#fff"/>
<rect x="573" y="56" width="1" height="23" fill="#000"/>
<rect x="571" y="61" width="5" height="4" fill="#000"/>
<rect x="572" y="62" width="3" height="2" fill="#fff"/>
<rect x="581" y="53" width="1" height="33" fill="#000"/>
<rect x="579" y="55" width="5" height="30" fill="#000"/>
<rect x="589" y="90" width="1" height="48" fill="#000"/>
<rect x="587" y="92" width="5" height="43" fill="#000"/>
<rect x="597" y="104" width="1" height="29" fill="#000"/>
<rect x="595" y="109" width="5" height="16" fill="#000"/>
<rect x="596" y="110" width="3" height="14" fill="#fff"/>
<rect x="605" y="120" width="1" height="27" fill="#000"/>
<rect x="603" y="125" width="5" height="15" fill="#000"/>
<rect x="613" y="132" width="1" height="15" fill="#000"/>
<rect x="611" y="136" width="5" height="10" fill="#000"/>
<rect x="612" y="137" width="3" height="8" fill="#fff"/>
<rect x="621" y="172" width="1" height="22" fill="#000"/>
<rect x="619" y="186" width="5" height="5" fill="#000"/>
<rect x="620" y="187" width="3" height="3" fill="#fff"/>
<rect x="629" y="186" width="1" height="51" fill="#000"/>
<rect x="627" y="196" width="5" height="36" fill="#000"/>
<rect x="637" y="205" width="1" height="33" fill="#000"/>
<rect x="635" y="208" width="5" height="30" fill="#000"/>
<rect x="645" y="224" width="1" height="28" fill="#000"/>
<rect x="643" y="239" width="5" height="1" fill="#000"/>
<rect x="653" y="204" width="1" height="30" fill="#000"/>
<rect x="651" y="204" width="5" height="27" fill="#000"/>
<rect x="652" y="205" width="3" height="25" fill="#fff"/>
<rect x="661" y="200" width="1" height="20" fill="#000"/>
<rect x="659" y="203" width="5" height="5" fill="#000"/>
<rect x="669" y="155" width="1" height="41" fill="#000"/>
<rect x="667" y="166" width="5" height="25" fill="#000"/>
<rect x="668" y="167" width="3" height="23" fill="#fff"/>
<rect x="677" y="169" width="1" height="14" fill="#000"/>
<rect x="675" y="173" width="5" height="10" fill="#000"/>
<rect x="676" y="174" width="3" height="8" fill="#fff"/>
<rect x="685" y="175" width="1" height="22" fill="#000"/>
<rect x="683" y="184" width="5" height="12" fill="#000"/>
<rect x="684" y="185" width="3" height="10" fill="#fff"/>
<rect x="693" y="152" width="1" height="22" fill="#000"/>
<rect x="691" y="155" width="5" height="19" fill="#000"/>
<rect x="692" y="156" width="3" height="17" fill="#fff"/>
<rect x="701" y="139" width="1" height="19" fill="#000"/>
<rect x="699" y="142" width="5" height="9" fill="#000"/>
<rect x="700" y="143" width="3" height="7" fill="#fff"/>
<rect x="709" y="138" width="1" height="16" fill="#000"/>
<rect x="707" y="140" width="5" height="10" fill="#000"/>
<rect x="717" y="134" width="1" height="18" fill="#000"/>
<rect x="715" y="144" width="5" height="4" fill="#000"/>
<rect x="716" y="145" width="3" height="2" fill="#fff"/>
<rect x="725" y="127" width="1" height="24" fill="#000"/>
<rect x="723" y="137" width="5" height="13" fill="#000"/>
<rect x="724" y="138" width="3" height="11" fill="#fff"/>
<rect x="733" y="146" width="1" height="19" fill="#000"/>
<rect x="731" y="146" width="5" height="19" fill="#000"/>
<rect x="741" y="150" width="1" height="17" fill="#000"/>
<rect x="739" y="154" width="5" height="7" fill="#000"/>
<rect x="740" y="155" width="3" height="5" fill="#fff"/>
<rect x="749" y="146" width="1" height="28" fill="#000"/>
<rect x="747" y="146" width="5" height="18" fill="#000"/>
<rect x="757" y="166" width="1" height="15" fill="#000"/>
<rect x="755" y="173" width="5" height="6" fill="#000"/>
<rect x="765" y="187" width="1" height="25" fill="#000"/>
<rect x="763" y="191" width="5" height="21" fill="#000"/>
<rect x="773" y="201" width="1" height="16" fill="#000"/>
<rect x="771" y="205" width="5" height="11" fill="#000"/>
<rect x="772" y="206" width="3" height="9" fill="#fff"/>
<rect x="781" y="211" width="1" height="25" fill="#000"/>
<rect x="779" y="217" width="5" height="19" fill="#000"/>
<rect x="780" y="218" width="3" height="17" fill="#fff"/>
<rect x="789" y="200" width="1" height="32" fill="#000"/>
<rect x="787" y="210" width="5" height="19" fill="#000"/>
<rect x="788" y="211" width="3" height="17" fill="#fff"/>
<rect x="797" y="234" width="1" height="24" fill="#000"/>
<rect x="795" y="242" width="5" height="2" fill="#000"/>
<rect x="805" y="230" width="1" height="28" fill="#000"/>
<rect x="803" y="235" width="5" height="20" fill="#000"/>
<rect x="804" y="236" width="3" height="18" fill="#fff"/>
<rect x="813" y="220" width="1" height="23" fill="#000"/>
<rect x="811" y="220" width="5" height="14" fill="#000"/>
<rect x="821" y="230" width="1" height="25" fill="#000"/>
<rect x="819" y="237" width="5" height="7" fill="#000"/>
<rect x="829" y="204" width="1" height="34" fill="#000"/>
<rect x="827" y="209" width="5" height="25" fill="#000"/>
<rect x="828" y="210" width="3" height="23" fill="#fff"/>
<rect x="837" y="228" width="1" height="25" fill="#000"/>
<rect x="835" y="230" width="5" height="22" fill="#000"/>
<rect x="845" y="297" width="1" height="29" fill="#000"/>
<rect x="843" y="306" width="5" height="19" fill="#000"/>
<rect x="853" y="279" width="1" height="40" fill="#000"/>
<rect x="851" y="287" width="5" height="18" fill="#000"/>
<rect x="852" y="288" width="3" height="16" fill="#fff"/>
<rect x="861" y="285" width="1" height="25" fill="#000"/>
<rect x="859" y="287" width="5" height="20" fill="#000"/>
<rect x="869" y="334" width="1" height="43" fill="#000"/>
<rect x="867" y="335" width="5" height="38" fill="#000"/>
<rect x="877" y="366" width="1" height="128" fill="#000"/>
<rect x="875" y="384" width="5" height="86" fill="#000"/>
<rect x="876" y="385" width="3" height="84" fill="#fff"/>
<rect x="885" y="405" width="1" height="55" fill="#000"/>
<rect x="883" y="435" width="5" height="22" fill="#000"/>
<rect x="893" y="414" width="1" height="52" fill="#000"/>
<rect x="891" y="437" width="5" height="15" fill="#000"/>
<rect x="892" y="438" width="3" height="13" fill="#fff"/>
<rect x="901" y="415" width="1" height="86" fill="#000"/>
<rect x="899" y="461" width="5" height="40" fill="#000"/>
<rect x="909" y="479" width="1" height="87" fill="#000"/>
<rect x="907" y="500" width="5" height="10" fill="#000"/>
<rect x="917" y="432" width="1" height="66" fill="#000"/>
<rect x="915" y="434" width="5" height="64" fill="#000"/>
<rect x="916" y="435" width="3" height="62" fill="#fff"/>
<rect x="925" y="497" width="1" height="48" fill="#000"/>
<rect x="923" y="532" width="5" height="12" fill="#000"/>
<rect x="924" y="533" width="3" height="10" fill="#fff"/>
<rect x="933" y="452" width="1" height="28" fill="#000"/>
<rect x="931" y="456" width="5" height="13" fill="#000"/>
<rect x="932" y="457" width="3" height="11" fill="#fff"/>
<rect x="941" y="400" width="1" height="38" fill="#000"/>
<rect x="939" y="401" width="5" height="23" fill="#000"/>
<rect x="940" y="402" width="3" height="21" fill="#fff"/>
<rect x="949" y="404" width="1" height="29" fill="#000"/>
<rect x="947" y="410" width="5" height="19" fill="#000"/>
<rect x="957" y="386" width="1" height="34" fill="#000"/>
<rect x="955" y="386" width="5" height="22" fill="#000"/>
<rect x="965" y="406" width="1" height="48" fill="#000"/>
<rect x="963" y="438" width="5" height="16" fill="#000"/>
<rect x="964" y="439" width="3" height="14" fill="#fff"/>
<rect x="973" y="392" width="1" height="34" fill="#000"/>
<rect x="971" y="395" width="5" height="12" fill="#000"/>
<rect x="972" y="396" width="3" height="10" fill="#fff"/>
<rect x="981" y="404" width="1" height="42" fill="#000"/>
<rect x="979" y="417" width="5" height="26" fill="#000"/>
<rect x="989" y="421" width="1" height="41" fill="#000"/>
<rect x="987" y="422" width="5" height="37" fill="#000"/>
<rect x="988" y="423" width="3" height="35" fill="#fff"/>
<rect x="997" y="423" width="1" height="16" fill="#000"/>
<rect x="995" y="426" width="5" height="9" fill="#000"/>
<rect x="996" y="427" width="3" height="7" fill="#fff"/>
<rect x="1005" y="385" width="1" height="36" fill="#000"/>
<rect x="1003" y="392" width="5" height="1" fill="#000"/>
<rect x="1013" y="349" width="1" height="44" fill="#000"/>
<rect x="1011" y="350" width="5" height="25" fill="#000"/>
<rect x="1012" y="351" width="3" height="23" fill="#fff"/>
<rect x="1021" y="363" width="1" height="29" fill="#000"/>
<rect x="1019" y="373" width="5" height="18" fill="#000"/>
<rect x="1029" y="355" width="1" height="21" fill="#000"/>
<rect x="1027" y="363" width="5" height="2" fill="#000"/>
<rect x="1037" y="339" width="1" height="23" fill="#000"/>
<rect x="1035" y="351" width="5" height="8" fill="#000"/>
<rect x="1036" y="352" width="3" height="6" fill="#fff"/>
<rect x="1045" y="338" width="1" height="38" fill="#000"/>
<rect x="1043" y="351" width="5" height="24" fill="#000"/>
<rect x="1053" y="369" width="1" height="19" fill="#000"/>
<rect x="1051" y="380" width="5" height="2" fill="#000"/>
<rect x="1061" y="334" width="1" height="27" fill="#000"/>
<rect x="1059" y="345" width="5" height="10" fill="#000"/>
<rect x="1069" y="347" width="1" height="19" fill="#000"/>
<rect x="1067" y="358" width="5" height="1" fill="#000"/>
<rect x="1077" y="361" width="1" height="39" fill="#000"/>
<rect x="1075" y="367" width="5" height="26" fill="#000"/>
<rect x="1085" y="381" width="1" height="31" fill="#000"/>
<rect x="1083" y="385" width="5" height="24" fill="#000"/>
<rect x="1084" y="386" width="3" height="22" fill="#fff"/>
<rect x="1093" y="371" width="1" height="21" fill="#000"/>
<rect x="1091" y="377" width="5" height="4" fill="#000"/>
<rect x="1092" y="378" width="3" height="2" fill="#fff"/>
<rect x="1101" y="388" width="1" height="16" fill="#000"/>
<rect x="1099" y="393" width="5" height="1" fill="#000"/>
<rect x="1109" y="362" width="1" height="21" fill="#000"/>
<rect x="1107" y="365" width="5" height="18" fill="#000"/>
<rect x="1108" y="366" width="3" height="16" fill="#fff"/>
<rect x="1117" y="340" width="1" height="34" fill="#000"/>
<rect x="1115" y="340" width="5" height="17" fill="#000"/>
<rect x="1116" y="341" width="3" height="15" fill="#fff"/>
<rect x="1125" y="328" width="1" height="22" fill="#000"/>
<rect x="1123" y="339" width="5" height="6" fill="#000"/>
<rect x="1133" y="393" width="1" height="27" fill="#000"/>
<rect x="1131" y="396" width="5" height="19" fill="#000"/>
<rect x="1141" y="389" width="1" height="18" fill="#000"/>
<rect x="1139" y="391" width="5" height="10" fill="#000"/>
<rect x="1140" y="392" width="3" height="8" fill="#fff"/>
<rect x="1149" y="368" width="1" height="32" fill="#000"/>
<rect x="1147" y="373" width="5" height="27" fill="#000"/>
<rect x="1148" y="374" width="3" height="25" fill="#fff"/>
<rect x="1157" y="378" width="1" height="13" fill="#000"/>
<rect x="1155" y="382" width="5" height="3" fill="#000"/>
<rect x="1165" y="365" width="1" height="12" fill="#000"/>
<rect x="1163" y="370" width="5" height="2" fill="#000"/>
<rect x="1173" y="333" width="1" height="26" fill="#000"/>
<rect x="1171" y="346" width="5" height="9" fill="#000"/>
<rect x="1172" y="347" width="3" height="7" fill="#fff"/>
<rect x="1181" y="357" width="1" height="20" fill="#000"/>
<rect x="1179" y="362" width="5" height="6" fill="#000"/>
<rect x="1189" y="361" width="1" height="24" fill="#000"/>
<rect x="1187" y="372" width="5" height="8" fill="#000"/>
<rect x="1188" y="373" width="3" height="6" fill="#fff"/>
<rect x="1197" y="378" width="1" height="21" fill="#000"/>
<rect x="1195" y="380" width="5" height="16" fill="#000"/>
<rect x="1205" y="382" width="1" height="23" fill="#000"/>
<rect x="1203" y="390" width="5" height="8" fill="#000"/>
<rect x="1213" y="380" width="1" height="22" fill="#000"/>
<rect x="1211" y="381" width="5" height="20" fill="#000"/>
<rect x="1212" y="382" width="3" height="18" fill="#fff"/>
<rect x="1221" y="343" width="1" height="19" fill="#000"/>
<rect x="1219" y="355" width="5" height="3" fill="#000"/>
<rect x="1220" y="356" width="3" height="1" fill="#fff"/>
<rect x="1229" y="346" width="1" height="15" fill="#000"/>
<rect x="1227" y="350" width="5" height="8" fill="#000"/>
<rect x="1228" y="351" width="3" height="6" fill="#fff"/>
<rect x="1237" y="347" width="1" height="22" fill="#000"/>
<rect x="1235" y="353" width="5" height="16" fill="#000"/>
<rect x="1245" y="395" width="1" height="63" fill="#000"/>
<rect x="1243" y="395" width="5" height="62" fill="#000"/>
<rect x="1253" y="442" width="1" height="28" fill="#000"/>
<rect x="1251" y="446" width="5" height="6" fill="#000"/>
<rect x="1252" y="447" width="3" height="4" fill="#fff"/>
<rect x="1261" y="409" width="1" height="21" fill="#000"/>
<rect x="1259" y="417" width="5" height="13" fill="#000"/>
<rect x="1260" y="418" width="3" height="11" fill="#fff"/>
<rect x="1269" y="420" width="1" height="25" fill="#000"/>
<rect x="1267" y="426" width="5" height="13" fill="#000"/>
<rect x="1277" y="424" width="1" height="44" fill="#000"/>
<rect x="1275" y="442" width="5" height="3" fill="#000"/>
<rect x="1285" y="446" width="1" height="31" fill="#000"/>
<rect x="1283" y="453" width="5" height="8" fill="#000"/>
<rect x="1284" y="454" width="3" height="6" fill="#fff"/>
<rect x="1293" y="397" width="1" height="31" fill="#000"/>
<rect x="1291" y="412" width="5" height="16" fill="#000"/>
<rect x="1292" y="413" width="3" height="14" fill="#fff"/>
<rect x="1301" y="379" width="1" height="28" fill="#000"/>
<rect x="1299" y="380" width="5" height="20" fill="#000"/>
<rect x="1300" y="381" width="3" height="18" fill="#fff"/>
<rect x="1309" y="354" width="1" height="18" fill="#000"/>
<rect x="1307" y="354" width="5" height="8" fill="#000"/>
<rect x="1317" y="342" width="1" height="28" fill="#000"/>
<rect x="1315" y="343" width="5" height="15" fill="#000"/>
<rect x="1325" y="328" width="1" height="34" fill="#000"/>
<rect x="1323" y="333" width="5" height="28" fill="#000"/>
<rect x="1324" y="334" width="3" height="26" fill="#fff"/>
<rect x="1333" y="315" width="1" height="25" fill="#000"/>
<rect x="1331" y="318" width="5" height="13" fill="#000"/>
<rect x="1341" y="303" width="1" height="27" fill="#000"/>
<rect x="1339" y="323" width="5" height="5" fill="#000"/>
<rect x="1340" y="324" width="3" height="3" fill="#fff"/>
<rect x="1349" y="299" width="1" height="23" fill="#000"/>
<rect x="1347" y="309" width="5" height="6" fill="#000"/>
<rect x="1357" y="314" width="1" height="43" fill="#000"/>
<rect x="1355" y="320" width="5" height="34" fill="#000"/>
<rect x="1365" y="363" width="1" height="22" fill="#000"/>
<rect x="1363" y="363" width="5" height="22" fill="#000"/>
<rect x="1364" y="364" width="3" height="20" fill="#fff"/>
<rect x="1373" y="367" width="1" height="38" fill="#000"/>
<rect x="1371" y="384" width="5" height="12" fill="#000"/>
<rect x="1381" y="353" width="1" height="11" fill="#000"/>
<rect x="1379" y="354" width="5" height="1" fill="#000"/>
<rect x="1389" y="348" width="1" height="24" fill="#000"/>
<rect x="1387" y="350" width="5" height="7" fill="#000"/>
<rect x="1388" y="351" width="3" height="5" fill="#fff"/>
<rect x="1397" y="350" width="1" height="26" fill="#000"/>
<rect x="1395" y="356" width="5" height="4" fill="#000"/>
<rect x="1396" y="357" width="3" height="2" fill="#fff"/>
<rect x="1405" y="331" width="1" height="32" fill="#000"/>
<rect x="1403" y="338" width="5" height="20" fill="#000"/>
<rect x="1404" y="339" width="3" height="18" fill="#fff"/>
<rect x="1413" y="338" width="1" height="16" fill="#000"/>
<rect x="1411" y="353" width="5" height="1" fill="#000"/>
<rect x="1421" y="311" width="1" height="57" fill="#000"/>
<rect x="1419" y="321" width="5" height="15" fill="#000"/>
<rect x="1420" y="322" width="3" height="13" fill="#fff"/>
<rect x="1429" y="317" width="1" height="31" fill="#000"/>
<rect x="1427" y="321" width="5" height="23" fill="#000"/>
<rect x="1437" y="340" width="1" height="20" fill="#000"/>
<rect x="1435" y="355" width="5" height="5" fill="#000"/>
<rect x="1436" y="356" width="3" height="3" fill="#fff"/>
<rect x="1445" y="353" width="1" height="28" fill="#000"/>
<rect x="1443" y="360" width="5" height="7" fill="#000"/>
<rect x="1453" y="352" width="1" height="21" fill="#000"/>
<rect x="1451" y="354" width="5" height="7" fill="#000"/>
</g>
<g shape-rendering="crispEdges" clip-path="url(#macdc)">
<rect x="5" y="628" width="1" height="12" fill="#c0c0c0"/>
<rect x="13" y="628" width="1" height="13" fill="#c0c0c0"/>
<rect x="21" y="628" width="1" height="16" fill="#c0c0c0"/>
<rect x="29" y="628" width="1" height="16" fill="#c0c0c0"/>
<rect x="37" y="628" width="1" height="12" fill="#c0c0c0"/>
<rect x="45" y="628" width="1" height="8" fill="#c0c0c0"/>
<rect x="53" y="628" width="1" height="6" fill="#c0c0c0"/>
<rect x="61" y="628" width="1" height="2" fill="#c0c0c0"/>
<rect x="69" y="625" width="1" height="4" fill="#c0c0c0"/>
<rect x="77" y="623" width="1" height="6" fill="#c0c0c0"/>
<rect x="85" y="621" width="1" height="8" fill="#c0c0c0"/>
<rect x="93" y="620" width="1" height="9" fill="#c0c0c0"/>
<rect x="101" y="620" width="1" height="9" fill="#c0c0c0"/>
<rect x="109" y="619" width="1" height="10" fill="#c0c0c0"/>
<rect x="117" y="619" width="1" height="10" fill="#c0c0c0"/>
<rect x="125" y="617" width="1" height="12" fill="#c0c0c0"/>
<rect x="133" y="617" width="1" height="12" fill="#c0c0c0"/>
<rect x="141" y="618" width="1" height="11" fill="#c0c0c0"/>
<rect x="149" y="616" width="1" height="13" fill="#c0c0c0"/>
<rect x="157" y="614" width="1" height="15" fill="#c0c0c0"/>
<rect x="165" y="609" width="1" height="20" fill="#c0c0c0"/>
<rect x="173" y="606" width="1" height="23" fill="#c0c0c0"/>
<rect x="181" y="602" width="1" height="27" fill="#c0c0c0"/>
<rect x="189" y="599" width="1" height="30" fill="#c0c0c0"/>
<rect x="197" y="599" width="1" height="30" fill="#c0c0c0"/>
<rect x="205" y="603" width="1" height="26" fill="#c0c0c0"/>
<rect x="213" y="607" width="1" height="22" fill="#c0c0c0"/>
<rect x="221" y="613" width="1" height="16" fill="#c0c0c0"/>
<rect x="229" y="620" width="1" height="9" fill="#c0c0c0"/>
<rect x="237" y="625" width="1" height="4" fill="#c0c0c0"/>
<rect x="245" y="627" width="1" height="2" fill="#c0c0c0"/>
<rect x="253" y="625" width="1" height="4" fill="#c0c0c0"/>
<rect x="261" y="626" width="1" height="3" fill="#c0c0c0"/>
<rect x="269" y="628" width="1" height="2" fill="#c0c0c0"/>
<rect x="277" y="628" width="1" height="3" fill="#c0c0c0"/>
<rect x="285" y="628" width="1" height="1" fill="#c0c0c0"/>
<rect x="293" y="627" width="1" height="2" fill="#c0c0c0"/>
<rect x="301" y="626" width="1" height="3" fill="#c0c0c0"/>
<rect x="309" y="626" width="1" height="3" fill="#c0c0c0"/>
<rect x="317" y="628" width="1" height="3" fill="#c0c0c0"/>
<rect x="325" y="628" width="1" height="5" fill="#c0c0c0"/>
<rect x="333" y="628" width="1" height="7" fill="#c0c0c0"/>
<rect x="341" y="628" width="1" height="11" fill="#c0c0c0"/>
<rect x="349" y="628" width="1" height="13" fill="#c0c0c0"/>
<rect x="357" y="628" width="1" height="12" fill="#c0c0c0"/>
<rect x="365" y="628" width="1" height="11" fill="#c0c0c0"/>
<rect x="373" y="628" width="1" height="11" fill="#c0c0c0"/>
<rect x="381" y="628" width="1" height="10" fill="#c0c0c0"/>
<rect x="389" y="628" width="1" height="6" fill="#c0c0c0"/>
<rect x="397" y="625" width="1" height="4" fill="#c0c0c0"/>
<rect x="405" y="620" width="1" height="9" fill="#c0c0c0"/>
<rect x="413" y="614" width="1" height="15" fill="#c0c0c0"/>
<rect x="421" y="609" width="1" height="20" fill="#c0c0c0"/>
<rect x="429" y="606" width="1" height="23" fill="#c0c0c0"/>
<rect x="437" y="603" width="1" height="26" fill="#c0c0c0"/>
<rect x="445" y="602" width="1" height="27" fill="#c0c0c0"/>
<rect x="453" y="601" width="1" height="28" fill="#c0c0c0"/>
<rect x="461" y="597" width="1" height="32" fill="#c0c0c0"/>
<rect x="469" y="594" width="1" height="35" fill="#c0c0c0"/>
<rect x="477" y="593" width="1" height="36" fill="#c0c0c0"/>
<rect x="485" y="591" width="1" height="38" fill="#c0c0c0"/>
<rect x="493" y="590" width="1" height="39" fill="#c0c0c0"/>
<rect x="501" y="592" width="1" height="37" fill="#c0c0c0"/>
<rect x="509" y="592" width="1" height="37" fill="#c0c0c0"/>
<rect x="517" y="595" width="1" height="34" fill="#c0c0c0"/>
<rect x="525" y="594" width="1" height="35" fill="#c0c0c0"/>
<rect x="533" y="594" width="1" height="35" fill="#c0c0c0"/>
<rect x="541" y="591" width="1" height="38" fill="#c0c0c0"/>
<rect x="549" y="591" width="1" height="38" fill="#c0c0c0"/>
<rect x="557" y="592" width="1" height="37" fill="#c0c0c0"/>
<rect x="565" y="592" width="1" height="37" fill="#c0c0c0"/>
<rect x="573" y="591" width="1" height="38" fill="#c0c0c0"/>
<rect x="581" y="593" width="1" height="36" fill="#c0c0c0"/>
<rect x="589" y="601" width="1" height="28" fill="#c0c0c0"/>
<rect x="597" y="604" width="1" height="25" fill="#c0c0c0"/>
<rect x="605" y="611" width="1" height="18" fill="#c0c0c0"/>
<rect x="613" y="615" width="1" height="14" fill="#c0c0c0"/>
<rect x="621" y="625" width="1" height="4" fill="#c0c0c0"/>
<rect x="629" y="628" width="1" height="10" fill="#c0c0c0"/>
<rect x="637" y="628" width="1" height="21" fill="#c0c0c0"/>
<rect x="645" y="628" width="1" height="29" fill="#c0c0c0"/>
<rect x="653" y="628" width="1" height="31" fill="#c0c0c0"/>
<rect x="661" y="628" width="1" height="33" fill="#c0c0c0"/>
<rect x="669" y="628" width="1" height="29" fill="#c0c0c0"/>
<rect x="677" y="628" width="1" height="27" fill="#c0c0c0"/>
<rect x="685" y="628" width="1" height="26" fill="#c0c0c0"/>
<rect x="693" y="628" width="1" height="21" fill="#c0c0c0"/>
<rect x="701" y="628" width="1" height="17" fill="#c0c0c0"/>
<rect x="709" y="628" width="1" height="13" fill="#c0c0c0"/>
<rect x="717" y="628" width="1" height="10" fill="#c0c0c0"/>
<rect x="725" y="628" width="1" height="7" fill="#c0c0c0"/>
<rect x="733" y="628" width="1" height="7" fill="#c0c0c0"/>
<rect x="741" y="628" width="1" height="6" fill="#c0c0c0"/>
<rect x="749" y="628" width="1" height="6" fill="#c0c0c0"/>
<rect x="757" y="628" width="1" height="8" fill="#c0c0c0"/>
<rect x="765" y="628" width="1" height="13" fill="#c0c0c0"/>
<rect x="773" y="628" width="1" height="16" fill="#c0c0c0"/>
<rect x="781" y="628" width="1" height="19" fill="#c0c0c0"/>
<rect x="789" y="628" width="1" height="21" fill="#c0c0c0"/>
<rect x="797" y="628" width="1" height="26" fill="#c0c0c0"/>
<rect x="805" y="628" width="1" height="29" fill="#c0c0c0"/>
<rect x="813" y="628" width="1" height="30" fill="#c0c0c0"/>
<rect x="821" y="628" width="1" height="32" fill="#c0c0c0"/>
<rect x="829" y="628" width="1" height="30" fill="#c0c0c0"/>
<rect x="837" y="628" width="1" height="32" fill="#c0c0c0"/>
<rect x="845" y="628" width="1" height="42" fill="#c0c0c0"/>
<rect x="853" y="628" width="1" height="44" fill="#c0c0c0"/>
<rect x="861" y="628" width="1" height="48" fill="#c0c0c0"/>
<rect x="869" y="628" width="1" height="58" fill="#c0c0c0"/>
<rect x="877" y="628" width="1" height="66" fill="#c0c0c0"/>
<rect x="885" y="628" width="1" height="80" fill="#c0c0c0"/>
<rect x="893" y="628" width="1" height="88" fill="#c0c0c0"/>
<rect x="901" y="628" width="1" height="100" fill="#c0c0c0"/>
<rect x="909" y="628" width="1" height="109" fill="#c0c0c0"/>
<rect x="917" y="628" width="1" height="107" fill="#c0c0c0"/>
<rect x="925" y="628" width="1" height="115" fill="#c0c0c0"/>
<rect x="933" y="628" width="1" height="112" fill="#c0c0c0"/>
<rect x="941" y="628" width="1" height="101" fill="#c0c0c0"/>
<rect x="949" y="628" width="1" height="95" fill="#c0c0c0"/>
<rect x="957" y="628" width="1" height="87" fill="#c0c0c0"/>
<rect x="965" y="628" width="1" height="83" fill="#c0c0c0"/>
<rect x="973" y="628" width="1" height="75" fill="#c0c0c0"/>
<rect x="981" y="628" width="1" height="72" fill="#c0c0c0"/>
<rect x="989" y="628" width="1" height="67" fill="#c0c0c0"/>
<rect x="997" y="628" width="1" height="63" fill="#c0c0c0"/>
<rect x="1005" y="628" width="1" height="55" fill="#c0c0c0"/>
<rect x="1013" y="628" width="1" height="44" fill="#c0c0c0"/>
<rect x="1021" y="628" width="1" height="39" fill="#c0c0c0"/>
<rect x="1029" y="628" width="1" height="32" fill="#c0c0c0"/>
<rect x="1037" y="628" width="1" height="24" fill="#c0c0c0"/>
<rect x="1045" y="628" width="1" height="21" fill="#c0c0c0"/>
<rect x="1053" y="628" width="1" height="19" fill="#c0c0c0"/>
<rect x="1061" y="628" width="1" height="14" fill="#c0c0c0"/>
<rect x="1069" y="628" width="1" height="10" fill="#c0c0c0"/>
<rect x="1077" y="628" width="1" height="11" fill="#c0c0c0"/>
<rect x="1085" y="628" width="1" height="11" fill="#c0c0c0"/>
<rect x="1093" y="628" width="1" height="10" fill="#c0c0c0"/>
<rect x="1101" y="628" width="1" height="11" fill="#c0c0c0"/>
<rect x="1109" y="628" width="1" height="8" fill="#c0c0c0"/>
<rect x="1117" y="628" width="1" height="3" fill="#c0c0c0"/>
<rect x="1125" y="627" width="1" height="2" fill="#c0c0c0"/>
<rect x="1133" y="628" width="1" height="5" fill="#c0c0c0"/>
<rect x="1141" y="628" width="1" height="6" fill="#c0c0c0"/>
<rect x="1149" y="628" width="1" height="5" fill="#c0c0c0"/>
<rect x="1157" y="628" width="1" height="6" fill="#c0c0c0"/>
<rect x="1165" y="628" width="1" height="4" fill="#c0c0c0"/>
<rect x="1173" y="628" width="1" height="1" fill="#c0c0c0"/>
<rect x="1181" y="627" width="1" height="2" fill="#c0c0c0"/>
<rect x="1189" y="627" width="1" height="2" fill="#c0c0c0"/>
<rect x="1197" y="628" width="1" height="3" fill="#c0c0c0"/>
<rect x="1205" y="628" width="1" height="5" fill="#c0c0c0"/>
<rect x="1213" y="628" width="1" height="5" fill="#c0c0c0"/>
<rect x="1221" y="628" width="1" height="2" fill="#c0c0c0"/>
<rect x="1229" y="626" width="1" height="3" fill="#c0c0c0"/>
<rect x="1237" y="626" width="1" height="3" fill="#c0c0c0"/>
<rect x="1245" y="628" width="1" height="9" fill="#c0c0c0"/>
<rect x="1253" y="628" width="1" height="15" fill="#c0c0c0"/>
<rect x="1261" y="628" width="1" height="17" fill="#c0c0c0"/>
<rect x="1269" y="628" width="1" height="20" fill="#c0c0c0"/>
<rect x="1277" y="628" width="1" height="23" fill="#c0c0c0"/>
<rect x="1285" y="628" width="1" height="27" fill="#c0c0c0"/>
<rect x="1293" y="628" width="1" height="24" fill="#c0c0c0"/>
<rect x="1301" y="628" width="1" height="18" fill="#c0c0c0"/>
<rect x="1309" y="628" width="1" height="12" fill="#c0c0c0"/>
<rect x="1317" y="628" width="1" height="6" fill="#c0c0c0"/>
<rect x="1325" y="626" width="1" height="3" fill="#c0c0c0"/>
<rect x="1333" y="620" width="1" height="9" fill="#c0c0c0"/>
<rect x="1341" y="614" width="1" height="15" fill="#c0c0c0"/>
<rect x="1349" y="609" width="1" height="20" fill="#c0c0c0"/>
<rect x="1357" y="610" width="1" height="19" fill="#c0c0c0"/>
<rect x="1365" y="612" width="1" height="17" fill="#c0c0c0"/>
<rect x="1373" y="617" width="1" height="12" fill="#c0c0c0"/>
<rect x="1381" y="616" width="1" height="13" fill="#c0c0c0"/>
<rect x="1389" y="616" width="1" height="13" fill="#c0c0c0"/>
<rect x="1397" y="616" width="1" height="13" fill="#c0c0c0"/>
<rect x="1405" y="614" width="1" height="15" fill="#c0c0c0"/>
<rect x="1413" y="615" width="1" height="14" fill="#c0c0c0"/>
<rect x="1421" y="612" width="1" height="17" fill="#c0c0c0"/>
<rect x="1429" y="613" width="1" height="16" fill="#c0c0c0"/>
<rect x="1437" y="614" width="1" height="15" fill="#c0c0c0"/>
<rect x="1445" y="617" width="1" height="12" fill="#c0c0c0"/>
<rect x="1453" y="619" width="1" height="10" fill="#c0c0c0"/>
</g>
<polyline clip-path="url(#macdc)" points="-2.5,631.0 5.5,632.6 13.5,634.3 21.5,637.2 29.5,638.3 37.5,639.3 45.5,639.5 53.5,639.3 61.5,638.3 69.5,636.2 77.5,634.4 85.5,632.3 93.5,629.8 101.5,627.2 109.5,625.0 117.5,623.1 125.5,621.4 133.5,620.1 141.5,619.3 149.5,618.6 157.5,617.8 165.5,616.6 173.5,615.0 181.5,613.2 189.5,611.0 197.5,609.0 205.5,607.4 213.5,606.1 221.5,605.8 229.5,606.4 237.5,608.1 245.5,610.5 253.5,613.0 261.5,616.0 269.5,619.4 277.5,622.4 285.5,624.8 293.5,626.4 301.5,627.1 309.5,627.2 317.5,627.6 325.5,628.3 333.5,629.3 341.5,630.3 349.5,631.3 357.5,632.5 365.5,633.8 373.5,635.1 381.5,636.3 389.5,636.6 397.5,635.8 405.5,634.2 413.5,631.5 421.5,628.1 429.5,624.5 437.5,620.6 445.5,616.6 453.5,612.6 461.5,608.6 469.5,605.2 477.5,602.2 485.5,599.6 493.5,597.5 501.5,595.9 509.5,594.6 517.5,593.9 525.5,593.2 533.5,592.8 541.5,592.5 549.5,592.3 557.5,592.5 565.5,592.6 573.5,592.5 581.5,592.6 589.5,593.2 597.5,594.3 605.5,596.1 613.5,598.8 621.5,602.5 629.5,607.6 637.5,613.8 645.5,621.1 653.5,628.3 661.5,634.8 669.5,640.6 677.5,645.4 685.5,649.5 693.5,652.1 701.5,652.8 709.5,652.0 717.5,649.9 725.5,647.2 733.5,644.3 741.5,641.8 749.5,639.5 757.5,637.5 765.5,636.6 773.5,636.5 781.5,637.2 789.5,638.5 797.5,640.6 805.5,643.1 813.5,645.8 821.5,648.7 829.5,651.1 837.5,653.2 845.5,656.1 853.5,658.8 861.5,661.8 869.5,665.4 877.5,669.6 885.5,675.1 893.5,681.3 901.5,689.2 909.5,697.8 917.5,705.0 925.5,712.9 933.5,719.9 941.5,724.7 949.5,727.9 957.5,728.7 965.5,728.2 973.5,725.4 981.5,721.2 989.5,716.8 997.5,711.0 1005.5,704.7 1013.5,698.4 1021.5,692.1 1029.5,686.0 1037.5,679.4 1045.5,673.4 1053.5,667.5 1061.5,661.5 1069.5,655.7 1077.5,650.8 1085.5,647.1 1093.5,643.9 1101.5,641.5 1109.5,639.7 1117.5,637.7 1125.5,635.6 1133.5,634.7 1141.5,634.2 1149.5,633.6 1157.5,633.0 1165.5,632.4 1173.5,631.3 1181.5,630.5 1189.5,630.2 1197.5,630.5 1205.5,630.6 1213.5,630.5 1221.5,630.1 1229.5,629.4 1237.5,628.8 1245.5,629.8 1253.5,631.4 1261.5,633.2 1269.5,635.1 1277.5,637.1 1285.5,639.5 1293.5,641.9 1301.5,644.0 1309.5,645.4 1317.5,645.1 1325.5,643.3 1333.5,640.6 1341.5,637.0 1349.5,632.4 1357.5,627.6 1365.5,623.2 1373.5,620.0 1381.5,617.5 1389.5,615.6 1397.5,614.5 1405.5,613.9 1413.5,614.0 1421.5,614.3 1429.5,614.6 1437.5,614.8 1445.5,614.9 1453.5,615.1" fill="none" stroke="#ff0000" stroke-width="1" stroke-dasharray="3 3" shape-rendering="crispEdges"/>
<g shape-rendering="crispEdges">
<line x1="0" y1="788.5" x2="1688" y2="788.5" stroke="#c0c0c0" stroke-width="1" stroke-dasharray="3 3"/>
<line x1="0" y1="839.5" x2="1688" y2="839.5" stroke="#c0c0c0" stroke-width="1" stroke-dasharray="3 3"/>
<line x1="0" y1="900.5" x2="1688" y2="900.5" stroke="#c0c0c0" stroke-width="1" stroke-dasharray="3 3"/>
</g>
<polyline clip-path="url(#rsic)" points="0,849.7 5.5,857.4 13.5,854.3 21.5,859.6 29.5,853.2 37.5,832.9 45.5,829.6 53.5,831.4 61.5,826.7 69.5,819.9 77.5,828.5 85.5,827.8 93.5,825.3 101.5,834.9 109.5,827.9 117.5,830.5 125.5,824.0 133.5,830.5 141.5,835.3 149.5,824.2 157.5,819.7 165.5,809.5 173.5,808.0 181.5,806.6 189.5,804.9 197.5,812.3 205.5,837.9 213.5,838.5 221.5,852.7 229.5,856.5 237.5,857.8 245.5,843.8 253.5,832.6 261.5,840.7 269.5,849.7 277.5,844.1 285.5,834.0 293.5,835.5 301.5,834.5 309.5,838.9 317.5,852.7 325.5,848.5 333.5,850.5 341.5,858.0 349.5,852.2 357.5,843.8 365.5,843.8 373.5,847.2 381.5,838.9 389.5,829.5 397.5,814.7 405.5,819.0 413.5,814.4 421.5,813.2 429.5,816.5 437.5,813.9 445.5,816.9 453.5,814.7 461.5,807.2 469.5,805.5 477.5,811.3 485.5,804.8 493.5,812.0 501.5,821.8 509.5,817.3 517.5,829.3 525.5,816.5 533.5,816.2 541.5,810.4 549.5,816.5 557.5,817.7 565.5,814.4 573.5,810.7 581.5,825.4 589.5,846.9 597.5,836.7 605.5,847.6 613.5,846.2 621.5,860.9 629.5,870.7 637.5,871.9 645.5,872.4 653.5,857.2 661.5,858.1 669.5,843.1 677.5,845.3 685.5,848.6 693.5,838.6 701.5,834.7 709.5,837.4 717.5,835.3 725.5,833.0 733.5,843.4 741.5,839.4 749.5,843.2 757.5,848.4 765.5,858.7 773.5,855.9 781.5,859.5 789.5,856.2 797.5,865.9 805.5,861.8 813.5,861.1 821.5,864.1 829.5,847.5 837.5,860.7 845.5,875.8 853.5,861.9 861.5,865.7 869.5,876.5 877.5,878.1 885.5,886.8 893.5,880.2 901.5,886.9 909.5,887.8 917.5,865.2 925.5,876.7 933.5,860.0 941.5,849.7 949.5,853.5 957.5,849.8 965.5,854.0 973.5,845.9 981.5,853.0 989.5,849.0 997.5,849.7 1005.5,843.3 1013.5,835.6 1021.5,843.0 1029.5,838.2 1037.5,835.8 1045.5,840.3 1053.5,841.3 1061.5,836.3 1069.5,837.3 1077.5,844.6 1085.5,842.7 1093.5,840.8 1101.5,844.9 1109.5,837.5 1117.5,831.9 1125.5,833.3 1133.5,849.9 1141.5,843.9 1149.5,839.6 1157.5,842.5 1165.5,838.5 1173.5,832.9 1181.5,838.6 1189.5,839.9 1197.5,846.2 1205.5,846.6 1213.5,841.4 1221.5,834.0 1229.5,832.4 1237.5,838.7 1245.5,860.3 1253.5,856.8 1261.5,848.3 1269.5,853.2 1277.5,854.6 1285.5,856.4 1293.5,843.6 1301.5,835.1 1309.5,830.8 1317.5,829.8 1325.5,823.7 1333.5,823.1 1341.5,821.3 1349.5,819.1 1357.5,833.7 1365.5,836.6 1373.5,846.5 1381.5,834.4 1389.5,833.3 1397.5,835.0 1405.5,829.8 1413.5,835.6 1421.5,826.1 1429.5,834.2 1437.5,837.5 1445.5,841.5 1453.5,839.7" fill="none" stroke="#1e90ff" stroke-width="1" shape-rendering="crispEdges"/>
<rect x="-2.5" y="328.5" width="5" height="4" fill="#fff" stroke="#ff0000" stroke-width="1"/>
<rect x="-2.5" y="379.5" width="5" height="4" fill="#fff" stroke="#0000ff" stroke-width="1"/>
<rect x="1683.5" y="328.5" width="4" height="4" fill="#fff" stroke="#ff0000" stroke-width="1"/>
<rect x="1683.5" y="379.5" width="4" height="4" fill="#fff" stroke="#0000ff" stroke-width="1"/>
<rect x="1510" y="350" width="7" height="1" fill="#ff0000"/>
<rect x="1517.5" y="348.5" width="2" height="3" fill="#fff" stroke="#ff0000" stroke-width="1"/>
<rect x="1520.5" y="338.5" width="73" height="24" fill="#fff" stroke="#ff0000" stroke-width="1"/>
<text x="1521.8" y="359" font-size="23" fill="#ff0000" stroke="#ff0000" stroke-width="0.3" textLength="70.5" lengthAdjust="spacingAndGlyphs">24419.3</text>
<text x="1475.5" y="393" font-size="20" fill="#00ff00" stroke="#00ff00" stroke-width="0.35" style="font-family:'Noto Serif CJK SC', serif" textLength="110.5" lengthAdjust="spacingAndGlyphs">多空转折点</text>
<g stroke="#ff0000" stroke-width="3" fill="#ff0000" stroke-linejoin="round" stroke-linecap="round" shape-rendering="crispEdges">
<line x1="1279.6" y1="469.2" x2="1352" y2="302.5"/>
<line x1="1352" y1="302.5" x2="1372" y2="396"/>
<line x1="1372" y1="396" x2="1421" y2="309.1"/>
<line x1="1421" y1="309.1" x2="1445.8" y2="378.3"/>
<line x1="1445.8" y1="378.3" x2="1458.5" y2="362.4"/>
<path d="M1352.0 302.5 L1353.0 312.7 L1343.8 308.8 Z" stroke-width="1"/>
<path d="M1372.0 396.0 L1365.2 388.2 L1375.0 386.2 Z" stroke-width="1"/>
<path d="M1421.0 309.1 L1420.9 319.4 L1412.2 314.5 Z" stroke-width="1"/>
<path d="M1445.8 378.3 L1438.1 371.5 L1447.5 368.1 Z" stroke-width="1"/>
<path d="M1458.5 362.4 L1456.8 372.6 L1449.0 366.3 Z" stroke-width="1"/>
</g>
<rect x="1302" y="347" width="184" height="6" fill="#00ff00"/>
<rect x="1689" y="47" width="3" height="1" fill="#000"/>
<text x="1694" y="51.0" font-size="9.6" fill="#000" textLength="32.9" lengthAdjust="spacingAndGlyphs">29298.0</text>
<rect x="1689" y="80" width="3" height="1" fill="#000"/>
<text x="1694" y="84.0" font-size="9.6" fill="#000" textLength="32.9" lengthAdjust="spacingAndGlyphs">28770.0</text>
<rect x="1689" y="113" width="3" height="1" fill="#000"/>
<text x="1694" y="117.0" font-size="9.6" fill="#000" textLength="32.9" lengthAdjust="spacingAndGlyphs">28242.0</text>
<rect x="1689" y="147" width="3" height="1" fill="#000"/>
<text x="1694" y="151.0" font-size="9.6" fill="#000" textLength="32.9" lengthAdjust="spacingAndGlyphs">27698.0</text>
<rect x="1689" y="179" width="3" height="1" fill="#000"/>
<text x="1694" y="183.0" font-size="9.6" fill="#000" textLength="32.9" lengthAdjust="spacingAndGlyphs">27170.0</text>
<rect x="1689" y="212" width="3" height="1" fill="#000"/>
<text x="1694" y="216.0" font-size="9.6" fill="#000" textLength="32.9" lengthAdjust="spacingAndGlyphs">26642.0</text>
<rect x="1689" y="245" width="3" height="1" fill="#000"/>
<text x="1694" y="249.0" font-size="9.6" fill="#000" textLength="32.9" lengthAdjust="spacingAndGlyphs">26114.0</text>
<rect x="1689" y="279" width="3" height="1" fill="#000"/>
<text x="1694" y="283.0" font-size="9.6" fill="#000" textLength="32.9" lengthAdjust="spacingAndGlyphs">25570.0</text>
<rect x="1689" y="312" width="3" height="1" fill="#000"/>
<text x="1694" y="316.0" font-size="9.6" fill="#000" textLength="32.9" lengthAdjust="spacingAndGlyphs">25042.0</text>
<rect x="1689" y="345" width="3" height="1" fill="#000"/>
<text x="1694" y="349.0" font-size="9.6" fill="#000" textLength="32.9" lengthAdjust="spacingAndGlyphs">24514.0</text>
<rect x="1689" y="377" width="3" height="1" fill="#000"/>
<text x="1694" y="381.0" font-size="9.6" fill="#000" textLength="32.9" lengthAdjust="spacingAndGlyphs">23986.0</text>
<rect x="1689" y="410" width="3" height="1" fill="#000"/>
<text x="1694" y="414.0" font-size="9.6" fill="#000" textLength="32.9" lengthAdjust="spacingAndGlyphs">23458.0</text>
<rect x="1689" y="444" width="3" height="1" fill="#000"/>
<text x="1694" y="448.0" font-size="9.6" fill="#000" textLength="32.9" lengthAdjust="spacingAndGlyphs">22914.0</text>
<rect x="1689" y="477" width="3" height="1" fill="#000"/>
<text x="1694" y="481.0" font-size="9.6" fill="#000" textLength="32.9" lengthAdjust="spacingAndGlyphs">22386.0</text>
<rect x="1689" y="510" width="3" height="1" fill="#000"/>
<text x="1694" y="514.0" font-size="9.6" fill="#000" textLength="32.9" lengthAdjust="spacingAndGlyphs">21858.0</text>
<rect x="1689" y="543" width="3" height="1" fill="#000"/>
<text x="1694" y="547.0" font-size="9.6" fill="#000" textLength="32.9" lengthAdjust="spacingAndGlyphs">21330.0</text>
<rect x="1689" y="576" width="3" height="1" fill="#000"/>
<text x="1694" y="580.0" font-size="9.6" fill="#000" textLength="32.9" lengthAdjust="spacingAndGlyphs">20802.0</text>
<rect x="1690" y="305" width="41" height="11" fill="#ff0000"/>
<text x="1694" y="314" font-size="9.6" fill="#fff" stroke="#fff" stroke-width="0.2" textLength="32.8" lengthAdjust="spacingAndGlyphs">25046.3</text>
<rect x="1690" y="324" width="41" height="11" fill="#ff0000"/>
<text x="1694" y="333" font-size="9.6" fill="#fff" stroke="#fff" stroke-width="0.2" textLength="32.8" lengthAdjust="spacingAndGlyphs">24740.9</text>
<rect x="1690" y="344" width="41" height="11" fill="#32cd32"/>
<text x="1694" y="353" font-size="9.6" fill="#fff" stroke="#fff" stroke-width="0.2" textLength="32.8" lengthAdjust="spacingAndGlyphs">24419.3</text>
<rect x="1690" y="356" width="41" height="11" fill="#000000"/>
<text x="1694" y="365" font-size="9.6" fill="#fff" stroke="#fff" stroke-width="0.2" textLength="32.8" lengthAdjust="spacingAndGlyphs">24237.0</text>
<rect x="1690" y="375" width="41" height="11" fill="#0000ff"/>
<text x="1694" y="384" font-size="9.6" fill="#fff" stroke="#fff" stroke-width="0.2" textLength="32.8" lengthAdjust="spacingAndGlyphs">23921.0</text>
<rect x="1690" y="393" width="41" height="11" fill="#0000ff"/>
<text x="1694" y="402" font-size="9.6" fill="#fff" stroke="#fff" stroke-width="0.2" textLength="32.8" lengthAdjust="spacingAndGlyphs">23631.6</text>
<rect x="1689" y="582" width="3" height="1" fill="#000"/>
<rect x="1689" y="628" width="3" height="1" fill="#000"/>
<rect x="1689" y="749" width="3" height="1" fill="#000"/>
<text x="1692" y="591" font-size="9.6" fill="#000" textLength="28" lengthAdjust="spacingAndGlyphs">536.18</text>
<text x="1692" y="632" font-size="9.6" fill="#000" textLength="18.5" lengthAdjust="spacingAndGlyphs">0.00</text>
<text x="1692" y="747" font-size="9.6" fill="#000" textLength="36" lengthAdjust="spacingAndGlyphs">-1412.34</text>
<rect x="1689" y="754" width="3" height="1" fill="#000"/>
<rect x="1689" y="788" width="3" height="1" fill="#000"/>
<rect x="1689" y="839" width="3" height="1" fill="#000"/>
<rect x="1689" y="900" width="3" height="1" fill="#000"/>
<rect x="1689" y="925" width="3" height="1" fill="#000"/>
<text x="1693" y="763.5" font-size="9.6" fill="#000">100</text>
<text x="1692" y="792" font-size="9.6" fill="#000">80</text>
<text x="1692" y="843" font-size="9.6" fill="#000">50</text>
<text x="1692" y="904" font-size="9.6" fill="#000">15</text>
<text x="1692" y="923" font-size="9.6" fill="#000">0</text>
<text x="-3" y="939" font-size="9.8" fill="#000" textLength="44.5" lengthAdjust="spacingAndGlyphs">4 Oct 2019</text>
<rect x="61" y="927" width="1" height="3" fill="#000"/>
<text x="61" y="939" font-size="9.8" fill="#000" textLength="50" lengthAdjust="spacingAndGlyphs">16 Oct 2019</text>
<rect x="125" y="927" width="1" height="3" fill="#000"/>
<text x="125" y="939" font-size="9.8" fill="#000" textLength="50" lengthAdjust="spacingAndGlyphs">28 Oct 2019</text>
<rect x="189" y="927" width="1" height="3" fill="#000"/>
<text x="189" y="939" font-size="9.8" fill="#000" textLength="44.5" lengthAdjust="spacingAndGlyphs">7 Nov 2019</text>
<rect x="253" y="927" width="1" height="3" fill="#000"/>
<text x="253" y="939" font-size="9.8" fill="#000" textLength="50" lengthAdjust="spacingAndGlyphs">19 Nov 2019</text>
<rect x="317" y="927" width="1" height="3" fill="#000"/>
<text x="317" y="939" font-size="9.8" fill="#000" textLength="50" lengthAdjust="spacingAndGlyphs">29 Nov 2019</text>
<rect x="381" y="927" width="1" height="3" fill="#000"/>
<text x="381" y="939" font-size="9.8" fill="#000" textLength="50" lengthAdjust="spacingAndGlyphs">11 Dec 2019</text>
<rect x="445" y="927" width="1" height="3" fill="#000"/>
<text x="445" y="939" font-size="9.8" fill="#000" textLength="50" lengthAdjust="spacingAndGlyphs">23 Dec 2019</text>
<rect x="509" y="927" width="1" height="3" fill="#000"/>
<text x="509" y="939" font-size="9.8" fill="#000" textLength="44.5" lengthAdjust="spacingAndGlyphs">7 Jan 2020</text>
<rect x="573" y="927" width="1" height="3" fill="#000"/>
<text x="573" y="939" font-size="9.8" fill="#000" textLength="50" lengthAdjust="spacingAndGlyphs">17 Jan 2020</text>
<rect x="637" y="927" width="1" height="3" fill="#000"/>
<text x="637" y="939" font-size="9.8" fill="#000" textLength="50" lengthAdjust="spacingAndGlyphs">31 Jan 2020</text>
<rect x="701" y="927" width="1" height="3" fill="#000"/>
<text x="701" y="939" font-size="9.8" fill="#000" textLength="50" lengthAdjust="spacingAndGlyphs">12 Feb 2020</text>
<rect x="765" y="927" width="1" height="3" fill="#000"/>
<text x="765" y="939" font-size="9.8" fill="#000" textLength="50" lengthAdjust="spacingAndGlyphs">24 Feb 2020</text>
<rect x="829" y="927" width="1" height="3" fill="#000"/>
<text x="829" y="939" font-size="9.8" fill="#000" textLength="44.5" lengthAdjust="spacingAndGlyphs">5 Mar 2020</text>
<rect x="893" y="927" width="1" height="3" fill="#000"/>
<text x="893" y="939" font-size="9.8" fill="#000" textLength="50" lengthAdjust="spacingAndGlyphs">17 Mar 2020</text>
<rect x="957" y="927" width="1" height="3" fill="#000"/>
<text x="957" y="939" font-size="9.8" fill="#000" textLength="50" lengthAdjust="spacingAndGlyphs">27 Mar 2020</text>
<rect x="1021" y="927" width="1" height="3" fill="#000"/>
<text x="1021" y="939" font-size="9.8" fill="#000" textLength="44.5" lengthAdjust="spacingAndGlyphs">8 Apr 2020</text>
<rect x="1085" y="927" width="1" height="3" fill="#000"/>
<text x="1085" y="939" font-size="9.8" fill="#000" textLength="50" lengthAdjust="spacingAndGlyphs">22 Apr 2020</text>
<rect x="1149" y="927" width="1" height="3" fill="#000"/>
<text x="1149" y="939" font-size="9.8" fill="#000" textLength="44.5" lengthAdjust="spacingAndGlyphs">6 May 2020</text>
<rect x="1213" y="927" width="1" height="3" fill="#000"/>
<text x="1213" y="939" font-size="9.8" fill="#000" textLength="50" lengthAdjust="spacingAndGlyphs">18 May 2020</text>
<rect x="1277" y="927" width="1" height="3" fill="#000"/>
<text x="1277" y="939" font-size="9.8" fill="#000" textLength="50" lengthAdjust="spacingAndGlyphs">28 May 2020</text>
<rect x="1341" y="927" width="1" height="3" fill="#000"/>
<text x="1341" y="939" font-size="9.8" fill="#000" textLength="44.5" lengthAdjust="spacingAndGlyphs">9 Jun 2020</text>
<rect x="1405" y="927" width="1" height="3" fill="#000"/>
<text x="1405" y="939" font-size="9.8" fill="#000" textLength="50" lengthAdjust="spacingAndGlyphs">19 Jun 2020</text>
<path d="M0 35.5 L3.5 31.5 L7 35.5 Z" fill="#000"/>
<text x="12" y="37" font-size="9.8" fill="#000" textLength="50.5" lengthAdjust="spacingAndGlyphs">HK50-,Daily</text>
<text x="69.2" y="37" font-size="9.8" fill="#000" textLength="141" lengthAdjust="spacingAndGlyphs">24357.0 24399.0 24052.5 24237.0</text>
<text x="2" y="592.5" font-size="9.8" fill="#000" textLength="127" lengthAdjust="spacingAndGlyphs">MACD(12,26,9) 108.27 156.77</text>
<text x="1.8" y="765" font-size="9.8" fill="#000" textLength="67.5" lengthAdjust="spacingAndGlyphs">RSI(14) 50.1398</text>
<defs>
<linearGradient id="tabg" x1="0" y1="0" x2="0" y2="1"><stop offset="0" stop-color="#f45050"/><stop offset="1" stop-color="#e23232"/></linearGradient>
<linearGradient id="lowg" x1="0" y1="0" x2="0" y2="1"><stop offset="0" stop-color="#e02c2c"/><stop offset="1" stop-color="#b00404"/></linearGradient>
<linearGradient id="btng" x1="0" y1="0" x2="0" y2="1"><stop offset="0" stop-color="#f2f2f2"/><stop offset="0.5" stop-color="#e4e4e4"/><stop offset="1" stop-color="#d0d0d0"/></linearGradient>
</defs>
<rect x="0.5" y="45.5" width="51" height="24" fill="url(#tabg)" stroke="#c00000"/>
<rect x="0.5" y="69.5" width="108" height="39" fill="url(#lowg)" stroke="#b00000"/>
<rect x="1" y="66" width="50" height="4" fill="#e43636"/>
<rect x="4" y="68" width="44" height="1" fill="#8a0000"/><rect x="4" y="69" width="44" height="1" fill="#ff6a6a"/>
<text x="12.3" y="61" font-size="11.8" fill="#fff" textLength="25.4" lengthAdjust="spacingAndGlyphs">SELL</text>
<text x="16.3" y="100" font-size="12.3" font-weight="bold" fill="#fff" textLength="33.7" lengthAdjust="spacingAndGlyphs">24235</text>
<circle cx="57.5" cy="97.5" r="2.1" fill="#fff"/>
<text x="63" y="100" font-size="34" fill="#fff" textLength="14" lengthAdjust="spacingAndGlyphs">5</text>
<rect x="167.5" y="45.5" width="51" height="24" fill="url(#tabg)" stroke="#c00000"/>
<rect x="110.5" y="69.5" width="108" height="39" fill="url(#lowg)" stroke="#b00000"/>
<rect x="168" y="66" width="50" height="4" fill="#e43636"/>
<rect x="171" y="68" width="44" height="1" fill="#8a0000"/><rect x="171" y="69" width="44" height="1" fill="#ff6a6a"/>
<text x="180.5" y="61" font-size="11.8" fill="#fff" textLength="23.3" lengthAdjust="spacingAndGlyphs">BUY</text>
<text x="126" y="100" font-size="12.3" font-weight="bold" fill="#fff" textLength="34" lengthAdjust="spacingAndGlyphs">24251</text>
<circle cx="168" cy="97.5" r="2.1" fill="#fff"/>
<text x="173.5" y="100" font-size="34" fill="#fff" textLength="14" lengthAdjust="spacingAndGlyphs">5</text>
<rect x="54.5" y="45.5" width="110" height="21" fill="#fff" stroke="#a8a8b0"/>
<rect x="55.5" y="46.5" width="20" height="19" fill="url(#btng)" stroke="#b8b8c0"/>
<rect x="143.5" y="46.5" width="20" height="19" fill="url(#btng)" stroke="#b8b8c0"/>
<path d="M62.5 54 h5 l-2.5 2.5 z" fill="#4a5ad0"/>
<path d="M150.5 56.5 h5 l-2.5 -2.5 z" fill="#4a5ad0"/>
<text x="139" y="60" font-size="12.5" fill="#000" text-anchor="end">1.00</text>
</svg></body></html>
